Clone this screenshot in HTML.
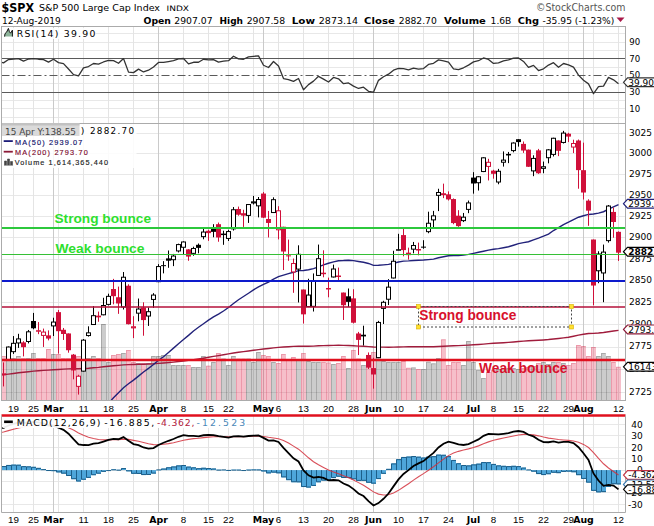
<!DOCTYPE html><html><head><meta charset="utf-8"><style>html,body{margin:0;padding:0;background:#fff;width:654px;height:526px;overflow:hidden;position:relative}</style></head><body><svg width="654" height="526" viewBox="0 0 654 526" style="position:absolute;left:0;top:0">
<rect width="654" height="526" fill="#fff"/>
<defs><clipPath id="crsi"><rect x="1.5" y="26.5" width="624.0" height="97.0"/></clipPath></defs>
<line x1="1.5" y1="33.5" x2="625.5" y2="33.5" stroke="#e8e8e8" stroke-width="1"/>
<line x1="1.5" y1="42.5" x2="625.5" y2="42.5" stroke="#e8e8e8" stroke-width="1"/>
<line x1="1.5" y1="50.5" x2="625.5" y2="50.5" stroke="#e8e8e8" stroke-width="1"/>
<line x1="1.5" y1="67.5" x2="625.5" y2="67.5" stroke="#e8e8e8" stroke-width="1"/>
<line x1="1.5" y1="83.5" x2="625.5" y2="83.5" stroke="#e8e8e8" stroke-width="1"/>
<line x1="1.5" y1="100.5" x2="625.5" y2="100.5" stroke="#e8e8e8" stroke-width="1"/>
<line x1="1.5" y1="108.5" x2="625.5" y2="108.5" stroke="#e8e8e8" stroke-width="1"/>
<line x1="1.5" y1="117.5" x2="625.5" y2="117.5" stroke="#e8e8e8" stroke-width="1"/>
<line x1="13.5" y1="26.5" x2="13.5" y2="123.5" stroke="#e4e4e4" stroke-width="1"/>
<line x1="33.5" y1="26.5" x2="33.5" y2="123.5" stroke="#e4e4e4" stroke-width="1"/>
<line x1="53.5" y1="26.5" x2="53.5" y2="123.5" stroke="#cacaca" stroke-width="1"/>
<line x1="58.5" y1="26.5" x2="58.5" y2="123.5" stroke="#e4e4e4" stroke-width="1"/>
<line x1="83.5" y1="26.5" x2="83.5" y2="123.5" stroke="#e4e4e4" stroke-width="1"/>
<line x1="108.5" y1="26.5" x2="108.5" y2="123.5" stroke="#e4e4e4" stroke-width="1"/>
<line x1="133.5" y1="26.5" x2="133.5" y2="123.5" stroke="#e4e4e4" stroke-width="1"/>
<line x1="158.5" y1="26.5" x2="158.5" y2="123.5" stroke="#cacaca" stroke-width="1"/>
<line x1="183.5" y1="26.5" x2="183.5" y2="123.5" stroke="#e4e4e4" stroke-width="1"/>
<line x1="208.5" y1="26.5" x2="208.5" y2="123.5" stroke="#e4e4e4" stroke-width="1"/>
<line x1="228.5" y1="26.5" x2="228.5" y2="123.5" stroke="#e4e4e4" stroke-width="1"/>
<line x1="253.5" y1="26.5" x2="253.5" y2="123.5" stroke="#e4e4e4" stroke-width="1"/>
<line x1="263.5" y1="26.5" x2="263.5" y2="123.5" stroke="#cacaca" stroke-width="1"/>
<line x1="278.5" y1="26.5" x2="278.5" y2="123.5" stroke="#e4e4e4" stroke-width="1"/>
<line x1="303.5" y1="26.5" x2="303.5" y2="123.5" stroke="#e4e4e4" stroke-width="1"/>
<line x1="328.5" y1="26.5" x2="328.5" y2="123.5" stroke="#e4e4e4" stroke-width="1"/>
<line x1="353.5" y1="26.5" x2="353.5" y2="123.5" stroke="#e4e4e4" stroke-width="1"/>
<line x1="373.5" y1="26.5" x2="373.5" y2="123.5" stroke="#cacaca" stroke-width="1"/>
<line x1="398.5" y1="26.5" x2="398.5" y2="123.5" stroke="#e4e4e4" stroke-width="1"/>
<line x1="423.5" y1="26.5" x2="423.5" y2="123.5" stroke="#e4e4e4" stroke-width="1"/>
<line x1="448.5" y1="26.5" x2="448.5" y2="123.5" stroke="#e4e4e4" stroke-width="1"/>
<line x1="473.5" y1="26.5" x2="473.5" y2="123.5" stroke="#cacaca" stroke-width="1"/>
<line x1="493.5" y1="26.5" x2="493.5" y2="123.5" stroke="#e4e4e4" stroke-width="1"/>
<line x1="518.5" y1="26.5" x2="518.5" y2="123.5" stroke="#e4e4e4" stroke-width="1"/>
<line x1="543.5" y1="26.5" x2="543.5" y2="123.5" stroke="#e4e4e4" stroke-width="1"/>
<line x1="568.5" y1="26.5" x2="568.5" y2="123.5" stroke="#e4e4e4" stroke-width="1"/>
<line x1="583.5" y1="26.5" x2="583.5" y2="123.5" stroke="#cacaca" stroke-width="1"/>
<line x1="593.5" y1="26.5" x2="593.5" y2="123.5" stroke="#e4e4e4" stroke-width="1"/>
<line x1="618.5" y1="26.5" x2="618.5" y2="123.5" stroke="#e4e4e4" stroke-width="1"/>
<line x1="1.5" y1="58.5" x2="625.5" y2="58.5" stroke="#5a5a5a" stroke-width="1"/>
<line x1="1.5" y1="92.5" x2="625.5" y2="92.5" stroke="#5a5a5a" stroke-width="1"/>
<line x1="1.5" y1="75.5" x2="625.5" y2="75.5" stroke="#5a5a5a" stroke-width="1" stroke-dasharray="8,3,2,3"/>
<polyline clip-path="url(#crsi)" points="-1.5,61.27 3.5,62.91 8.5,59.57 13.5,59.13 18.5,58.6 23.5,61.13 28.5,59 33.5,58.59 38.5,59.23 43.5,59.7 48.5,62.16 53.5,59.29 58.5,62.65 63.5,63.62 68.5,68.95 73.5,74.59 78.5,75.94 83.5,67.91 88.5,66.53 93.5,63.49 98.5,64.16 103.5,61.99 108.5,60.46 113.5,60.58 118.5,63.27 123.5,58.59 128.5,72.14 133.5,72.62 138.5,69.13 143.5,71.97 148.5,70.18 153.5,67.03 158.5,62.4 163.5,62.4 168.5,61.56 173.5,60.73 178.5,58.92 183.5,58.52 188.5,63.86 193.5,62.26 198.5,62.25 203.5,59.26 208.5,59.88 213.5,59.64 218.5,62.08 223.5,61.21 228.5,60.64 233.5,56.23 238.5,58.8 243.5,59.24 248.5,56.85 253.5,56.32 258.5,55.84 263.5,65.23 268.5,67.53 273.5,61.52 278.5,66.09 283.5,78.61 288.5,79.56 293.5,81.34 298.5,78.53 303.5,89.82 308.5,84.61 313.5,81.13 318.5,76.33 323.5,79.08 328.5,82 333.5,77.47 338.5,78.76 343.5,83.72 348.5,82.95 353.5,86.13 358.5,88.47 363.5,87.16 368.5,91.35 373.5,92.13 378.5,80.37 383.5,76.74 388.5,74.18 393.5,70.15 398.5,68.48 403.5,68.66 408.5,69.76 413.5,68.07 418.5,69.03 423.5,68.61 428.5,64.46 433.5,63.29 438.5,59.87 443.5,60.81 448.5,62.15 453.5,68.89 458.5,69.7 463.5,67.8 468.5,65.1 473.5,61.89 478.5,60.74 483.5,57.95 488.5,59.47 493.5,63.44 498.5,62.89 503.5,60.91 508.5,59.94 513.5,58.03 518.5,57.96 523.5,61.42 528.5,67.41 533.5,65.41 538.5,70.56 543.5,68.85 548.5,65.04 553.5,62.7 558.5,67.22 563.5,63.5 568.5,64.88 573.5,67.08 578.5,75.1 583.5,80.3 588.5,83.85 593.5,93.7 598.5,86.54 603.5,86.14 608.5,77.38 613.5,79.79 618.5,83.81" fill="none" stroke="#333" stroke-width="1.3" stroke-linejoin="round"/>
<clipPath id="cpr"><rect x="1.5" y="123.5" width="624.0" height="277.0"/></clipPath>
<line x1="1.5" y1="392.5" x2="625.5" y2="392.5" stroke="#e8e8e8" stroke-width="1"/>
<line x1="1.5" y1="369.5" x2="625.5" y2="369.5" stroke="#e8e8e8" stroke-width="1"/>
<line x1="1.5" y1="347.5" x2="625.5" y2="347.5" stroke="#e8e8e8" stroke-width="1"/>
<line x1="1.5" y1="324.5" x2="625.5" y2="324.5" stroke="#e8e8e8" stroke-width="1"/>
<line x1="1.5" y1="302.5" x2="625.5" y2="302.5" stroke="#e8e8e8" stroke-width="1"/>
<line x1="1.5" y1="280.5" x2="625.5" y2="280.5" stroke="#e8e8e8" stroke-width="1"/>
<line x1="1.5" y1="259.5" x2="625.5" y2="259.5" stroke="#e8e8e8" stroke-width="1"/>
<line x1="1.5" y1="237.5" x2="625.5" y2="237.5" stroke="#e8e8e8" stroke-width="1"/>
<line x1="1.5" y1="216.5" x2="625.5" y2="216.5" stroke="#e8e8e8" stroke-width="1"/>
<line x1="1.5" y1="195.5" x2="625.5" y2="195.5" stroke="#e8e8e8" stroke-width="1"/>
<line x1="1.5" y1="174.5" x2="625.5" y2="174.5" stroke="#e8e8e8" stroke-width="1"/>
<line x1="1.5" y1="153.5" x2="625.5" y2="153.5" stroke="#e8e8e8" stroke-width="1"/>
<line x1="1.5" y1="133.5" x2="625.5" y2="133.5" stroke="#e8e8e8" stroke-width="1"/>
<line x1="13.5" y1="123.5" x2="13.5" y2="400.5" stroke="#e4e4e4" stroke-width="1"/>
<line x1="33.5" y1="123.5" x2="33.5" y2="400.5" stroke="#e4e4e4" stroke-width="1"/>
<line x1="53.5" y1="123.5" x2="53.5" y2="400.5" stroke="#cacaca" stroke-width="1"/>
<line x1="58.5" y1="123.5" x2="58.5" y2="400.5" stroke="#e4e4e4" stroke-width="1"/>
<line x1="83.5" y1="123.5" x2="83.5" y2="400.5" stroke="#e4e4e4" stroke-width="1"/>
<line x1="108.5" y1="123.5" x2="108.5" y2="400.5" stroke="#e4e4e4" stroke-width="1"/>
<line x1="133.5" y1="123.5" x2="133.5" y2="400.5" stroke="#e4e4e4" stroke-width="1"/>
<line x1="158.5" y1="123.5" x2="158.5" y2="400.5" stroke="#cacaca" stroke-width="1"/>
<line x1="183.5" y1="123.5" x2="183.5" y2="400.5" stroke="#e4e4e4" stroke-width="1"/>
<line x1="208.5" y1="123.5" x2="208.5" y2="400.5" stroke="#e4e4e4" stroke-width="1"/>
<line x1="228.5" y1="123.5" x2="228.5" y2="400.5" stroke="#e4e4e4" stroke-width="1"/>
<line x1="253.5" y1="123.5" x2="253.5" y2="400.5" stroke="#e4e4e4" stroke-width="1"/>
<line x1="263.5" y1="123.5" x2="263.5" y2="400.5" stroke="#cacaca" stroke-width="1"/>
<line x1="278.5" y1="123.5" x2="278.5" y2="400.5" stroke="#e4e4e4" stroke-width="1"/>
<line x1="303.5" y1="123.5" x2="303.5" y2="400.5" stroke="#e4e4e4" stroke-width="1"/>
<line x1="328.5" y1="123.5" x2="328.5" y2="400.5" stroke="#e4e4e4" stroke-width="1"/>
<line x1="353.5" y1="123.5" x2="353.5" y2="400.5" stroke="#e4e4e4" stroke-width="1"/>
<line x1="373.5" y1="123.5" x2="373.5" y2="400.5" stroke="#cacaca" stroke-width="1"/>
<line x1="398.5" y1="123.5" x2="398.5" y2="400.5" stroke="#e4e4e4" stroke-width="1"/>
<line x1="423.5" y1="123.5" x2="423.5" y2="400.5" stroke="#e4e4e4" stroke-width="1"/>
<line x1="448.5" y1="123.5" x2="448.5" y2="400.5" stroke="#e4e4e4" stroke-width="1"/>
<line x1="473.5" y1="123.5" x2="473.5" y2="400.5" stroke="#cacaca" stroke-width="1"/>
<line x1="493.5" y1="123.5" x2="493.5" y2="400.5" stroke="#e4e4e4" stroke-width="1"/>
<line x1="518.5" y1="123.5" x2="518.5" y2="400.5" stroke="#e4e4e4" stroke-width="1"/>
<line x1="543.5" y1="123.5" x2="543.5" y2="400.5" stroke="#e4e4e4" stroke-width="1"/>
<line x1="568.5" y1="123.5" x2="568.5" y2="400.5" stroke="#e4e4e4" stroke-width="1"/>
<line x1="583.5" y1="123.5" x2="583.5" y2="400.5" stroke="#cacaca" stroke-width="1"/>
<line x1="593.5" y1="123.5" x2="593.5" y2="400.5" stroke="#e4e4e4" stroke-width="1"/>
<line x1="618.5" y1="123.5" x2="618.5" y2="400.5" stroke="#e4e4e4" stroke-width="1"/>
<g clip-path="url(#cpr)">
<rect x="-4.0" y="356" width="5" height="44.5" fill="rgba(0,0,0,0.2)"/>
<path d="M-3.5,400.5 V356.5 H0.5" fill="none" stroke="rgba(0,0,0,0.17)" stroke-width="1"/>
<rect x="1.0" y="356" width="5" height="44.5" fill="rgba(220,20,60,0.27)"/>
<path d="M1.5,400.5 V356.5 H5.5" fill="none" stroke="rgba(200,20,60,0.22)" stroke-width="1"/>
<rect x="6.0" y="353.5" width="5" height="47.0" fill="rgba(0,0,0,0.2)"/>
<path d="M6.5,400.5 V354.0 H10.5" fill="none" stroke="rgba(0,0,0,0.17)" stroke-width="1"/>
<rect x="11.0" y="358" width="5" height="42.5" fill="rgba(0,0,0,0.2)"/>
<path d="M11.5,400.5 V358.5 H15.5" fill="none" stroke="rgba(0,0,0,0.17)" stroke-width="1"/>
<rect x="16.0" y="356" width="5" height="44.5" fill="rgba(0,0,0,0.2)"/>
<path d="M16.5,400.5 V356.5 H20.5" fill="none" stroke="rgba(0,0,0,0.17)" stroke-width="1"/>
<rect x="21.0" y="358" width="5" height="42.5" fill="rgba(220,20,60,0.27)"/>
<path d="M21.5,400.5 V358.5 H25.5" fill="none" stroke="rgba(200,20,60,0.22)" stroke-width="1"/>
<rect x="26.0" y="358" width="5" height="42.5" fill="rgba(0,0,0,0.2)"/>
<path d="M26.5,400.5 V358.5 H30.5" fill="none" stroke="rgba(0,0,0,0.17)" stroke-width="1"/>
<rect x="31.0" y="353" width="5" height="47.5" fill="rgba(0,0,0,0.2)"/>
<path d="M31.5,400.5 V353.5 H35.5" fill="none" stroke="rgba(0,0,0,0.17)" stroke-width="1"/>
<rect x="36.0" y="358" width="5" height="42.5" fill="rgba(220,20,60,0.27)"/>
<path d="M36.5,400.5 V358.5 H40.5" fill="none" stroke="rgba(200,20,60,0.22)" stroke-width="1"/>
<rect x="41.0" y="358" width="5" height="42.5" fill="rgba(220,20,60,0.27)"/>
<path d="M41.5,400.5 V358.5 H45.5" fill="none" stroke="rgba(200,20,60,0.22)" stroke-width="1"/>
<rect x="46.0" y="349" width="5" height="51.5" fill="rgba(220,20,60,0.27)"/>
<path d="M46.5,400.5 V349.5 H50.5" fill="none" stroke="rgba(200,20,60,0.22)" stroke-width="1"/>
<rect x="51.0" y="354" width="5" height="46.5" fill="rgba(0,0,0,0.2)"/>
<path d="M51.5,400.5 V354.5 H55.5" fill="none" stroke="rgba(0,0,0,0.17)" stroke-width="1"/>
<rect x="56.0" y="354" width="5" height="46.5" fill="rgba(220,20,60,0.27)"/>
<path d="M56.5,400.5 V354.5 H60.5" fill="none" stroke="rgba(200,20,60,0.22)" stroke-width="1"/>
<rect x="61.0" y="358" width="5" height="42.5" fill="rgba(220,20,60,0.27)"/>
<path d="M61.5,400.5 V358.5 H65.5" fill="none" stroke="rgba(200,20,60,0.22)" stroke-width="1"/>
<rect x="66.0" y="358" width="5" height="42.5" fill="rgba(220,20,60,0.27)"/>
<path d="M66.5,400.5 V358.5 H70.5" fill="none" stroke="rgba(200,20,60,0.22)" stroke-width="1"/>
<rect x="71.0" y="356" width="5" height="44.5" fill="rgba(220,20,60,0.27)"/>
<path d="M71.5,400.5 V356.5 H75.5" fill="none" stroke="rgba(200,20,60,0.22)" stroke-width="1"/>
<rect x="76.0" y="356" width="5" height="44.5" fill="rgba(220,20,60,0.27)"/>
<path d="M76.5,400.5 V356.5 H80.5" fill="none" stroke="rgba(200,20,60,0.22)" stroke-width="1"/>
<rect x="81.0" y="358" width="5" height="42.5" fill="rgba(0,0,0,0.2)"/>
<path d="M81.5,400.5 V358.5 H85.5" fill="none" stroke="rgba(0,0,0,0.17)" stroke-width="1"/>
<rect x="86.0" y="358" width="5" height="42.5" fill="rgba(0,0,0,0.2)"/>
<path d="M86.5,400.5 V358.5 H90.5" fill="none" stroke="rgba(0,0,0,0.17)" stroke-width="1"/>
<rect x="91.0" y="356" width="5" height="44.5" fill="rgba(0,0,0,0.2)"/>
<path d="M91.5,400.5 V356.5 H95.5" fill="none" stroke="rgba(0,0,0,0.17)" stroke-width="1"/>
<rect x="96.0" y="358" width="5" height="42.5" fill="rgba(220,20,60,0.27)"/>
<path d="M96.5,400.5 V358.5 H100.5" fill="none" stroke="rgba(200,20,60,0.22)" stroke-width="1"/>
<rect x="101.0" y="324" width="5" height="76.5" fill="rgba(0,0,0,0.2)"/>
<path d="M101.5,400.5 V324.5 H105.5" fill="none" stroke="rgba(0,0,0,0.17)" stroke-width="1"/>
<rect x="106.0" y="362" width="5" height="38.5" fill="rgba(0,0,0,0.2)"/>
<path d="M106.5,400.5 V362.5 H110.5" fill="none" stroke="rgba(0,0,0,0.17)" stroke-width="1"/>
<rect x="111.0" y="355" width="5" height="45.5" fill="rgba(220,20,60,0.27)"/>
<path d="M111.5,400.5 V355.5 H115.5" fill="none" stroke="rgba(200,20,60,0.22)" stroke-width="1"/>
<rect x="116.0" y="354" width="5" height="46.5" fill="rgba(220,20,60,0.27)"/>
<path d="M116.5,400.5 V354.5 H120.5" fill="none" stroke="rgba(200,20,60,0.22)" stroke-width="1"/>
<rect x="121.0" y="353" width="5" height="47.5" fill="rgba(0,0,0,0.2)"/>
<path d="M121.5,400.5 V353.5 H125.5" fill="none" stroke="rgba(0,0,0,0.17)" stroke-width="1"/>
<rect x="126.0" y="350" width="5" height="50.5" fill="rgba(220,20,60,0.27)"/>
<path d="M126.5,400.5 V350.5 H130.5" fill="none" stroke="rgba(200,20,60,0.22)" stroke-width="1"/>
<rect x="131.0" y="362" width="5" height="38.5" fill="rgba(220,20,60,0.27)"/>
<path d="M131.5,400.5 V362.5 H135.5" fill="none" stroke="rgba(200,20,60,0.22)" stroke-width="1"/>
<rect x="136.0" y="363" width="5" height="37.5" fill="rgba(0,0,0,0.2)"/>
<path d="M136.5,400.5 V363.5 H140.5" fill="none" stroke="rgba(0,0,0,0.17)" stroke-width="1"/>
<rect x="141.0" y="363" width="5" height="37.5" fill="rgba(220,20,60,0.27)"/>
<path d="M141.5,400.5 V363.5 H145.5" fill="none" stroke="rgba(200,20,60,0.22)" stroke-width="1"/>
<rect x="146.0" y="363" width="5" height="37.5" fill="rgba(0,0,0,0.2)"/>
<path d="M146.5,400.5 V363.5 H150.5" fill="none" stroke="rgba(0,0,0,0.17)" stroke-width="1"/>
<rect x="151.0" y="356" width="5" height="44.5" fill="rgba(0,0,0,0.2)"/>
<path d="M151.5,400.5 V356.5 H155.5" fill="none" stroke="rgba(0,0,0,0.17)" stroke-width="1"/>
<rect x="156.0" y="356" width="5" height="44.5" fill="rgba(0,0,0,0.2)"/>
<path d="M156.5,400.5 V356.5 H160.5" fill="none" stroke="rgba(0,0,0,0.17)" stroke-width="1"/>
<rect x="161.0" y="355" width="5" height="45.5" fill="rgba(0,0,0,0.2)"/>
<path d="M161.5,400.5 V355.5 H165.5" fill="none" stroke="rgba(0,0,0,0.17)" stroke-width="1"/>
<rect x="166.0" y="355" width="5" height="45.5" fill="rgba(0,0,0,0.2)"/>
<path d="M166.5,400.5 V355.5 H170.5" fill="none" stroke="rgba(0,0,0,0.17)" stroke-width="1"/>
<rect x="171.0" y="365" width="5" height="35.5" fill="rgba(0,0,0,0.2)"/>
<path d="M171.5,400.5 V365.5 H175.5" fill="none" stroke="rgba(0,0,0,0.17)" stroke-width="1"/>
<rect x="176.0" y="365" width="5" height="35.5" fill="rgba(0,0,0,0.2)"/>
<path d="M176.5,400.5 V365.5 H180.5" fill="none" stroke="rgba(0,0,0,0.17)" stroke-width="1"/>
<rect x="181.0" y="365" width="5" height="35.5" fill="rgba(0,0,0,0.2)"/>
<path d="M181.5,400.5 V365.5 H185.5" fill="none" stroke="rgba(0,0,0,0.17)" stroke-width="1"/>
<rect x="186.0" y="365" width="5" height="35.5" fill="rgba(220,20,60,0.27)"/>
<path d="M186.5,400.5 V365.5 H190.5" fill="none" stroke="rgba(200,20,60,0.22)" stroke-width="1"/>
<rect x="191.0" y="367" width="5" height="33.5" fill="rgba(0,0,0,0.2)"/>
<path d="M191.5,400.5 V367.5 H195.5" fill="none" stroke="rgba(0,0,0,0.17)" stroke-width="1"/>
<rect x="196.0" y="367" width="5" height="33.5" fill="rgba(0,0,0,0.2)"/>
<path d="M196.5,400.5 V367.5 H200.5" fill="none" stroke="rgba(0,0,0,0.17)" stroke-width="1"/>
<rect x="201.0" y="356" width="5" height="44.5" fill="rgba(0,0,0,0.2)"/>
<path d="M201.5,400.5 V356.5 H205.5" fill="none" stroke="rgba(0,0,0,0.17)" stroke-width="1"/>
<rect x="206.0" y="365.7" width="5" height="34.80000000000001" fill="rgba(220,20,60,0.27)"/>
<path d="M206.5,400.5 V366.2 H210.5" fill="none" stroke="rgba(200,20,60,0.22)" stroke-width="1"/>
<rect x="211.0" y="362" width="5" height="38.5" fill="rgba(0,0,0,0.2)"/>
<path d="M211.5,400.5 V362.5 H215.5" fill="none" stroke="rgba(0,0,0,0.17)" stroke-width="1"/>
<rect x="216.0" y="353" width="5" height="47.5" fill="rgba(220,20,60,0.27)"/>
<path d="M216.5,400.5 V353.5 H220.5" fill="none" stroke="rgba(200,20,60,0.22)" stroke-width="1"/>
<rect x="221.0" y="358.5" width="5" height="42.0" fill="rgba(0,0,0,0.2)"/>
<path d="M221.5,400.5 V359.0 H225.5" fill="none" stroke="rgba(0,0,0,0.17)" stroke-width="1"/>
<rect x="226.0" y="365" width="5" height="35.5" fill="rgba(0,0,0,0.2)"/>
<path d="M226.5,400.5 V365.5 H230.5" fill="none" stroke="rgba(0,0,0,0.17)" stroke-width="1"/>
<rect x="231.0" y="356" width="5" height="44.5" fill="rgba(0,0,0,0.2)"/>
<path d="M231.5,400.5 V356.5 H235.5" fill="none" stroke="rgba(0,0,0,0.17)" stroke-width="1"/>
<rect x="236.0" y="358.5" width="5" height="42.0" fill="rgba(220,20,60,0.27)"/>
<path d="M236.5,400.5 V359.0 H240.5" fill="none" stroke="rgba(200,20,60,0.22)" stroke-width="1"/>
<rect x="241.0" y="358.5" width="5" height="42.0" fill="rgba(220,20,60,0.27)"/>
<path d="M241.5,400.5 V359.0 H245.5" fill="none" stroke="rgba(200,20,60,0.22)" stroke-width="1"/>
<rect x="246.0" y="358.5" width="5" height="42.0" fill="rgba(0,0,0,0.2)"/>
<path d="M246.5,400.5 V359.0 H250.5" fill="none" stroke="rgba(0,0,0,0.17)" stroke-width="1"/>
<rect x="251.0" y="362" width="5" height="38.5" fill="rgba(0,0,0,0.2)"/>
<path d="M251.5,400.5 V362.5 H255.5" fill="none" stroke="rgba(0,0,0,0.17)" stroke-width="1"/>
<rect x="256.0" y="352" width="5" height="48.5" fill="rgba(0,0,0,0.2)"/>
<path d="M256.5,400.5 V352.5 H260.5" fill="none" stroke="rgba(0,0,0,0.17)" stroke-width="1"/>
<rect x="261.0" y="355" width="5" height="45.5" fill="rgba(220,20,60,0.27)"/>
<path d="M261.5,400.5 V355.5 H265.5" fill="none" stroke="rgba(200,20,60,0.22)" stroke-width="1"/>
<rect x="266.0" y="356" width="5" height="44.5" fill="rgba(220,20,60,0.27)"/>
<path d="M266.5,400.5 V356.5 H270.5" fill="none" stroke="rgba(200,20,60,0.22)" stroke-width="1"/>
<rect x="271.0" y="362" width="5" height="38.5" fill="rgba(0,0,0,0.2)"/>
<path d="M271.5,400.5 V362.5 H275.5" fill="none" stroke="rgba(0,0,0,0.17)" stroke-width="1"/>
<rect x="276.0" y="363" width="5" height="37.5" fill="rgba(220,20,60,0.27)"/>
<path d="M276.5,400.5 V363.5 H280.5" fill="none" stroke="rgba(200,20,60,0.22)" stroke-width="1"/>
<rect x="281.0" y="354" width="5" height="46.5" fill="rgba(220,20,60,0.27)"/>
<path d="M281.5,400.5 V354.5 H285.5" fill="none" stroke="rgba(200,20,60,0.22)" stroke-width="1"/>
<rect x="286.0" y="359" width="5" height="41.5" fill="rgba(220,20,60,0.27)"/>
<path d="M286.5,400.5 V359.5 H290.5" fill="none" stroke="rgba(200,20,60,0.22)" stroke-width="1"/>
<rect x="291.0" y="357" width="5" height="43.5" fill="rgba(220,20,60,0.27)"/>
<path d="M291.5,400.5 V357.5 H295.5" fill="none" stroke="rgba(200,20,60,0.22)" stroke-width="1"/>
<rect x="296.0" y="359" width="5" height="41.5" fill="rgba(0,0,0,0.2)"/>
<path d="M296.5,400.5 V359.5 H300.5" fill="none" stroke="rgba(0,0,0,0.17)" stroke-width="1"/>
<rect x="301.0" y="353" width="5" height="47.5" fill="rgba(220,20,60,0.27)"/>
<path d="M301.5,400.5 V353.5 H305.5" fill="none" stroke="rgba(200,20,60,0.22)" stroke-width="1"/>
<rect x="306.0" y="361" width="5" height="39.5" fill="rgba(0,0,0,0.2)"/>
<path d="M306.5,400.5 V361.5 H310.5" fill="none" stroke="rgba(0,0,0,0.17)" stroke-width="1"/>
<rect x="311.0" y="362" width="5" height="38.5" fill="rgba(0,0,0,0.2)"/>
<path d="M311.5,400.5 V362.5 H315.5" fill="none" stroke="rgba(0,0,0,0.17)" stroke-width="1"/>
<rect x="316.0" y="362" width="5" height="38.5" fill="rgba(0,0,0,0.2)"/>
<path d="M316.5,400.5 V362.5 H320.5" fill="none" stroke="rgba(0,0,0,0.17)" stroke-width="1"/>
<rect x="321.0" y="362" width="5" height="38.5" fill="rgba(220,20,60,0.27)"/>
<path d="M321.5,400.5 V362.5 H325.5" fill="none" stroke="rgba(200,20,60,0.22)" stroke-width="1"/>
<rect x="326.0" y="362.5" width="5" height="38.0" fill="rgba(220,20,60,0.27)"/>
<path d="M326.5,400.5 V363.0 H330.5" fill="none" stroke="rgba(200,20,60,0.22)" stroke-width="1"/>
<rect x="331.0" y="364" width="5" height="36.5" fill="rgba(0,0,0,0.2)"/>
<path d="M331.5,400.5 V364.5 H335.5" fill="none" stroke="rgba(0,0,0,0.17)" stroke-width="1"/>
<rect x="336.0" y="363" width="5" height="37.5" fill="rgba(220,20,60,0.27)"/>
<path d="M336.5,400.5 V363.5 H340.5" fill="none" stroke="rgba(200,20,60,0.22)" stroke-width="1"/>
<rect x="341.0" y="356" width="5" height="44.5" fill="rgba(220,20,60,0.27)"/>
<path d="M341.5,400.5 V356.5 H345.5" fill="none" stroke="rgba(200,20,60,0.22)" stroke-width="1"/>
<rect x="346.0" y="368" width="5" height="32.5" fill="rgba(0,0,0,0.2)"/>
<path d="M346.5,400.5 V368.5 H350.5" fill="none" stroke="rgba(0,0,0,0.17)" stroke-width="1"/>
<rect x="351.0" y="350" width="5" height="50.5" fill="rgba(220,20,60,0.27)"/>
<path d="M351.5,400.5 V350.5 H355.5" fill="none" stroke="rgba(200,20,60,0.22)" stroke-width="1"/>
<rect x="356.0" y="358.5" width="5" height="42.0" fill="rgba(220,20,60,0.27)"/>
<path d="M356.5,400.5 V359.0 H360.5" fill="none" stroke="rgba(200,20,60,0.22)" stroke-width="1"/>
<rect x="361.0" y="365" width="5" height="35.5" fill="rgba(0,0,0,0.2)"/>
<path d="M361.5,400.5 V365.5 H365.5" fill="none" stroke="rgba(0,0,0,0.17)" stroke-width="1"/>
<rect x="366.0" y="356" width="5" height="44.5" fill="rgba(220,20,60,0.27)"/>
<path d="M366.5,400.5 V356.5 H370.5" fill="none" stroke="rgba(200,20,60,0.22)" stroke-width="1"/>
<rect x="371.0" y="352" width="5" height="48.5" fill="rgba(220,20,60,0.27)"/>
<path d="M371.5,400.5 V352.5 H375.5" fill="none" stroke="rgba(200,20,60,0.22)" stroke-width="1"/>
<rect x="376.0" y="354" width="5" height="46.5" fill="rgba(0,0,0,0.2)"/>
<path d="M376.5,400.5 V354.5 H380.5" fill="none" stroke="rgba(0,0,0,0.17)" stroke-width="1"/>
<rect x="381.0" y="361" width="5" height="39.5" fill="rgba(0,0,0,0.2)"/>
<path d="M381.5,400.5 V361.5 H385.5" fill="none" stroke="rgba(0,0,0,0.17)" stroke-width="1"/>
<rect x="386.0" y="362" width="5" height="38.5" fill="rgba(0,0,0,0.2)"/>
<path d="M386.5,400.5 V362.5 H390.5" fill="none" stroke="rgba(0,0,0,0.17)" stroke-width="1"/>
<rect x="391.0" y="362" width="5" height="38.5" fill="rgba(0,0,0,0.2)"/>
<path d="M391.5,400.5 V362.5 H395.5" fill="none" stroke="rgba(0,0,0,0.17)" stroke-width="1"/>
<rect x="396.0" y="362" width="5" height="38.5" fill="rgba(0,0,0,0.2)"/>
<path d="M396.5,400.5 V362.5 H400.5" fill="none" stroke="rgba(0,0,0,0.17)" stroke-width="1"/>
<rect x="401.0" y="361" width="5" height="39.5" fill="rgba(220,20,60,0.27)"/>
<path d="M401.5,400.5 V361.5 H405.5" fill="none" stroke="rgba(200,20,60,0.22)" stroke-width="1"/>
<rect x="406.0" y="367.8" width="5" height="32.69999999999999" fill="rgba(220,20,60,0.27)"/>
<path d="M406.5,400.5 V368.3 H410.5" fill="none" stroke="rgba(200,20,60,0.22)" stroke-width="1"/>
<rect x="411.0" y="367.4" width="5" height="33.10000000000002" fill="rgba(0,0,0,0.2)"/>
<path d="M411.5,400.5 V367.9 H415.5" fill="none" stroke="rgba(0,0,0,0.17)" stroke-width="1"/>
<rect x="416.0" y="369" width="5" height="31.5" fill="rgba(220,20,60,0.27)"/>
<path d="M416.5,400.5 V369.5 H420.5" fill="none" stroke="rgba(200,20,60,0.22)" stroke-width="1"/>
<rect x="421.0" y="369" width="5" height="31.5" fill="rgba(0,0,0,0.2)"/>
<path d="M421.5,400.5 V369.5 H425.5" fill="none" stroke="rgba(0,0,0,0.17)" stroke-width="1"/>
<rect x="426.0" y="361.7" width="5" height="38.80000000000001" fill="rgba(0,0,0,0.2)"/>
<path d="M426.5,400.5 V362.2 H430.5" fill="none" stroke="rgba(0,0,0,0.17)" stroke-width="1"/>
<rect x="431.0" y="363.3" width="5" height="37.19999999999999" fill="rgba(0,0,0,0.2)"/>
<path d="M431.5,400.5 V363.8 H435.5" fill="none" stroke="rgba(0,0,0,0.17)" stroke-width="1"/>
<rect x="436.0" y="358" width="5" height="42.5" fill="rgba(0,0,0,0.2)"/>
<path d="M436.5,400.5 V358.5 H440.5" fill="none" stroke="rgba(0,0,0,0.17)" stroke-width="1"/>
<rect x="441.0" y="339.3" width="5" height="61.19999999999999" fill="rgba(220,20,60,0.27)"/>
<path d="M441.5,400.5 V339.8 H445.5" fill="none" stroke="rgba(200,20,60,0.22)" stroke-width="1"/>
<rect x="446.0" y="365" width="5" height="35.5" fill="rgba(220,20,60,0.27)"/>
<path d="M446.5,400.5 V365.5 H450.5" fill="none" stroke="rgba(200,20,60,0.22)" stroke-width="1"/>
<rect x="451.0" y="362" width="5" height="38.5" fill="rgba(220,20,60,0.27)"/>
<path d="M451.5,400.5 V362.5 H455.5" fill="none" stroke="rgba(200,20,60,0.22)" stroke-width="1"/>
<rect x="456.0" y="362" width="5" height="38.5" fill="rgba(220,20,60,0.27)"/>
<path d="M456.5,400.5 V362.5 H460.5" fill="none" stroke="rgba(200,20,60,0.22)" stroke-width="1"/>
<rect x="461.0" y="365" width="5" height="35.5" fill="rgba(0,0,0,0.2)"/>
<path d="M461.5,400.5 V365.5 H465.5" fill="none" stroke="rgba(0,0,0,0.17)" stroke-width="1"/>
<rect x="466.0" y="341" width="5" height="59.5" fill="rgba(0,0,0,0.2)"/>
<path d="M466.5,400.5 V341.5 H470.5" fill="none" stroke="rgba(0,0,0,0.17)" stroke-width="1"/>
<rect x="471.0" y="362" width="5" height="38.5" fill="rgba(0,0,0,0.2)"/>
<path d="M471.5,400.5 V362.5 H475.5" fill="none" stroke="rgba(0,0,0,0.17)" stroke-width="1"/>
<rect x="476.0" y="369.8" width="5" height="30.69999999999999" fill="rgba(0,0,0,0.2)"/>
<path d="M476.5,400.5 V370.3 H480.5" fill="none" stroke="rgba(0,0,0,0.17)" stroke-width="1"/>
<rect x="481.0" y="378" width="5" height="22.5" fill="rgba(0,0,0,0.2)"/>
<path d="M481.5,400.5 V378.5 H485.5" fill="none" stroke="rgba(0,0,0,0.17)" stroke-width="1"/>
<rect x="486.0" y="372" width="5" height="28.5" fill="rgba(220,20,60,0.27)"/>
<path d="M486.5,400.5 V372.5 H490.5" fill="none" stroke="rgba(200,20,60,0.22)" stroke-width="1"/>
<rect x="491.0" y="370" width="5" height="30.5" fill="rgba(220,20,60,0.27)"/>
<path d="M491.5,400.5 V370.5 H495.5" fill="none" stroke="rgba(200,20,60,0.22)" stroke-width="1"/>
<rect x="496.0" y="369" width="5" height="31.5" fill="rgba(0,0,0,0.2)"/>
<path d="M496.5,400.5 V369.5 H500.5" fill="none" stroke="rgba(0,0,0,0.17)" stroke-width="1"/>
<rect x="501.0" y="368" width="5" height="32.5" fill="rgba(0,0,0,0.2)"/>
<path d="M501.5,400.5 V368.5 H505.5" fill="none" stroke="rgba(0,0,0,0.17)" stroke-width="1"/>
<rect x="506.0" y="368" width="5" height="32.5" fill="rgba(0,0,0,0.2)"/>
<path d="M506.5,400.5 V368.5 H510.5" fill="none" stroke="rgba(0,0,0,0.17)" stroke-width="1"/>
<rect x="511.0" y="368" width="5" height="32.5" fill="rgba(0,0,0,0.2)"/>
<path d="M511.5,400.5 V368.5 H515.5" fill="none" stroke="rgba(0,0,0,0.17)" stroke-width="1"/>
<rect x="516.0" y="369" width="5" height="31.5" fill="rgba(0,0,0,0.2)"/>
<path d="M516.5,400.5 V369.5 H520.5" fill="none" stroke="rgba(0,0,0,0.17)" stroke-width="1"/>
<rect x="521.0" y="368" width="5" height="32.5" fill="rgba(220,20,60,0.27)"/>
<path d="M521.5,400.5 V368.5 H525.5" fill="none" stroke="rgba(200,20,60,0.22)" stroke-width="1"/>
<rect x="526.0" y="367" width="5" height="33.5" fill="rgba(220,20,60,0.27)"/>
<path d="M526.5,400.5 V367.5 H530.5" fill="none" stroke="rgba(200,20,60,0.22)" stroke-width="1"/>
<rect x="531.0" y="366" width="5" height="34.5" fill="rgba(0,0,0,0.2)"/>
<path d="M531.5,400.5 V366.5 H535.5" fill="none" stroke="rgba(0,0,0,0.17)" stroke-width="1"/>
<rect x="536.0" y="363" width="5" height="37.5" fill="rgba(220,20,60,0.27)"/>
<path d="M536.5,400.5 V363.5 H540.5" fill="none" stroke="rgba(200,20,60,0.22)" stroke-width="1"/>
<rect x="541.0" y="362" width="5" height="38.5" fill="rgba(0,0,0,0.2)"/>
<path d="M541.5,400.5 V362.5 H545.5" fill="none" stroke="rgba(0,0,0,0.17)" stroke-width="1"/>
<rect x="546.0" y="364" width="5" height="36.5" fill="rgba(0,0,0,0.2)"/>
<path d="M546.5,400.5 V364.5 H550.5" fill="none" stroke="rgba(0,0,0,0.17)" stroke-width="1"/>
<rect x="551.0" y="362" width="5" height="38.5" fill="rgba(0,0,0,0.2)"/>
<path d="M551.5,400.5 V362.5 H555.5" fill="none" stroke="rgba(0,0,0,0.17)" stroke-width="1"/>
<rect x="556.0" y="362" width="5" height="38.5" fill="rgba(220,20,60,0.27)"/>
<path d="M556.5,400.5 V362.5 H560.5" fill="none" stroke="rgba(200,20,60,0.22)" stroke-width="1"/>
<rect x="561.0" y="363" width="5" height="37.5" fill="rgba(0,0,0,0.2)"/>
<path d="M561.5,400.5 V363.5 H565.5" fill="none" stroke="rgba(0,0,0,0.17)" stroke-width="1"/>
<rect x="566.0" y="365" width="5" height="35.5" fill="rgba(220,20,60,0.27)"/>
<path d="M566.5,400.5 V365.5 H570.5" fill="none" stroke="rgba(200,20,60,0.22)" stroke-width="1"/>
<rect x="571.0" y="363" width="5" height="37.5" fill="rgba(220,20,60,0.27)"/>
<path d="M571.5,400.5 V363.5 H575.5" fill="none" stroke="rgba(200,20,60,0.22)" stroke-width="1"/>
<rect x="576.0" y="345" width="5" height="55.5" fill="rgba(220,20,60,0.27)"/>
<path d="M576.5,400.5 V345.5 H580.5" fill="none" stroke="rgba(200,20,60,0.22)" stroke-width="1"/>
<rect x="581.0" y="346" width="5" height="54.5" fill="rgba(220,20,60,0.27)"/>
<path d="M581.5,400.5 V346.5 H585.5" fill="none" stroke="rgba(200,20,60,0.22)" stroke-width="1"/>
<rect x="586.0" y="356" width="5" height="44.5" fill="rgba(220,20,60,0.27)"/>
<path d="M586.5,400.5 V356.5 H590.5" fill="none" stroke="rgba(200,20,60,0.22)" stroke-width="1"/>
<rect x="591.0" y="347" width="5" height="53.5" fill="rgba(220,20,60,0.27)"/>
<path d="M591.5,400.5 V347.5 H595.5" fill="none" stroke="rgba(200,20,60,0.22)" stroke-width="1"/>
<rect x="596.0" y="356" width="5" height="44.5" fill="rgba(0,0,0,0.2)"/>
<path d="M596.5,400.5 V356.5 H600.5" fill="none" stroke="rgba(0,0,0,0.17)" stroke-width="1"/>
<rect x="601.0" y="353" width="5" height="47.5" fill="rgba(0,0,0,0.2)"/>
<path d="M601.5,400.5 V353.5 H605.5" fill="none" stroke="rgba(0,0,0,0.17)" stroke-width="1"/>
<rect x="606.0" y="356" width="5" height="44.5" fill="rgba(0,0,0,0.2)"/>
<path d="M606.5,400.5 V356.5 H610.5" fill="none" stroke="rgba(0,0,0,0.17)" stroke-width="1"/>
<rect x="611.0" y="362" width="5" height="38.5" fill="rgba(220,20,60,0.27)"/>
<path d="M611.5,400.5 V362.5 H615.5" fill="none" stroke="rgba(200,20,60,0.22)" stroke-width="1"/>
<rect x="616.0" y="366.8" width="5" height="33.69999999999999" fill="rgba(220,20,60,0.27)"/>
<path d="M616.5,400.5 V367.3 H620.5" fill="none" stroke="rgba(200,20,60,0.22)" stroke-width="1"/>
<polyline points="-1.5,375.09 3.5,374.64 8.5,374.1 13.5,373.45 18.5,372.75 23.5,372.25 28.5,371.71 33.5,371.15 38.5,370.71 43.5,370.4 48.5,370.14 53.5,369.81 58.5,369.45 63.5,369.14 68.5,368.91 73.5,368.75 78.5,368.7 83.5,368.44 88.5,368.18 93.5,367.8 98.5,367.41 103.5,366.81 108.5,366.32 113.5,365.75 118.5,365.35 123.5,364.86 128.5,364.63 133.5,364.51 138.5,364.3 143.5,364.18 148.5,364.03 153.5,363.81 158.5,363.4 163.5,363.02 168.5,362.6 173.5,362.12 178.5,361.54 183.5,360.96 188.5,360.39 193.5,359.79 198.5,359.02 203.5,358.19 208.5,357.27 213.5,356.41 218.5,355.6 223.5,354.8 228.5,353.93 233.5,353.05 238.5,352.3 243.5,351.66 248.5,351.01 253.5,350.25 258.5,349.59 263.5,349.05 268.5,348.51 273.5,347.91 278.5,347.38 283.5,347.03 288.5,346.68 293.5,346.4 298.5,346.12 303.5,346.28 308.5,346.29 313.5,346.15 318.5,345.82 323.5,345.63 328.5,345.51 333.5,345.34 338.5,345.27 343.5,345.39 348.5,345.54 353.5,345.79 358.5,346.1 363.5,346.3 368.5,346.61 373.5,347.04 378.5,347.1 383.5,347.17 388.5,347.2 393.5,347.13 398.5,347.02 403.5,346.91 408.5,346.81 413.5,346.74 418.5,346.78 423.5,346.81 428.5,346.8 433.5,346.68 438.5,346.45 443.5,346.21 448.5,345.96 453.5,345.78 458.5,345.59 463.5,345.38 468.5,345.14 473.5,344.8 478.5,344.5 483.5,344.09 488.5,343.64 493.5,343.32 498.5,343 503.5,342.72 508.5,342.41 513.5,341.99 518.5,341.55 523.5,341.11 528.5,340.8 533.5,340.44 538.5,340.2 543.5,339.93 548.5,339.57 553.5,339.05 558.5,338.52 563.5,337.89 568.5,337.27 573.5,336.26 578.5,335.14 583.5,334.31 588.5,333.5 593.5,333.35 598.5,333.03 603.5,332.52 608.5,331.76 613.5,331.04 618.5,330.41" fill="none" stroke="#a01c3c" stroke-width="1.4"/>
<polyline points="-1.5,492.96 3.5,493.23 8.5,493.51 13.5,492 18.5,490.32 23.5,487.64 28.5,484.71 33.5,481.7 38.5,479.01 43.5,476.34 48.5,472.87 53.5,468.03 58.5,463.41 63.5,458.13 68.5,452.45 73.5,446.27 78.5,438.99 83.5,433.15 88.5,427.56 93.5,421.57 98.5,416.02 103.5,410.29 108.5,403.25 113.5,397.76 118.5,392.76 123.5,387.66 128.5,383.75 133.5,380.1 138.5,376.08 143.5,372.06 148.5,368.36 153.5,364.43 158.5,360.27 163.5,356.75 168.5,352.44 173.5,348.14 178.5,343.67 183.5,339.55 188.5,335.38 193.5,330.97 198.5,327.3 203.5,323.7 208.5,320.18 213.5,316.96 218.5,314.09 223.5,311.04 228.5,307.49 233.5,303.52 238.5,299.71 243.5,296.53 248.5,293.26 253.5,289.82 258.5,286.85 263.5,284.34 268.5,282.03 273.5,279.06 278.5,276.63 283.5,275.1 288.5,273.62 293.5,272.26 298.5,270.58 303.5,270.44 308.5,269.72 313.5,268.66 318.5,266.85 323.5,264.94 328.5,263.26 333.5,261.86 338.5,260.74 343.5,260.55 348.5,260.24 353.5,260.59 358.5,261.45 363.5,262.21 368.5,263.45 373.5,265.36 378.5,265.31 383.5,264.83 388.5,264.4 393.5,263.23 398.5,262 403.5,261.11 408.5,260.89 413.5,260.47 418.5,260.24 423.5,260.06 428.5,259.63 433.5,259.1 438.5,257.79 443.5,256.72 448.5,255.74 453.5,255.57 458.5,255.43 463.5,255.12 468.5,254.41 473.5,253.39 478.5,252.27 483.5,251.2 488.5,250.12 493.5,249.26 498.5,248.58 503.5,247.72 508.5,246.79 513.5,245.25 518.5,243.59 523.5,242.59 528.5,241.7 533.5,239.8 538.5,238.14 543.5,236.19 548.5,234.07 553.5,230.53 558.5,227.64 563.5,224.67 568.5,222.21 573.5,219.6 578.5,217.23 583.5,215.72 588.5,214.43 593.5,214.05 598.5,213.11 603.5,211.73 608.5,209.11 613.5,206.92 618.5,204.71" fill="none" stroke="#22227a" stroke-width="1.4"/>
<line x1="-1.5" y1="358.82" x2="-1.5" y2="370.71" stroke="#000" stroke-width="1"/>
<rect x="-3.5" y="367.25" width="4" height="1.46" fill="#fff" stroke="#000" stroke-width="1"/>
<line x1="3.5" y1="362.37" x2="3.5" y2="386.45" stroke="#d0103a" stroke-width="1"/>
<rect x="1.5" y="373.83" width="4" height="1.01" fill="#fff" stroke="#d0103a" stroke-width="1"/>
<line x1="8.5" y1="346.46" x2="8.5" y2="360.27" stroke="#000" stroke-width="1"/>
<rect x="6.5" y="347.02" width="4" height="12.75" fill="#fff" stroke="#000" stroke-width="1"/>
<line x1="13.5" y1="336.07" x2="13.5" y2="353.95" stroke="#000" stroke-width="1"/>
<rect x="11.5" y="343.31" width="4" height="8.36" fill="#fff" stroke="#000" stroke-width="1"/>
<line x1="18.5" y1="333.8" x2="18.5" y2="347.89" stroke="#000" stroke-width="1"/>
<rect x="16.5" y="338.91" width="4" height="4.03" fill="#fff" stroke="#000" stroke-width="1"/>
<line x1="23.5" y1="341.18" x2="23.5" y2="356.4" stroke="#d0103a" stroke-width="1"/>
<rect x="21.0" y="342.38" width="5" height="4.78" fill="#d0103a"/>
<line x1="28.5" y1="329.97" x2="28.5" y2="343.39" stroke="#000" stroke-width="1"/>
<rect x="26.5" y="331.82" width="4" height="9.67" fill="#fff" stroke="#000" stroke-width="1"/>
<line x1="33.5" y1="312.92" x2="33.5" y2="329.27" stroke="#000" stroke-width="1"/>
<rect x="31.0" y="320.98" width="5" height="7.29" fill="#000"/>
<line x1="38.5" y1="322.07" x2="38.5" y2="334.17" stroke="#d0103a" stroke-width="1"/>
<rect x="36.5" y="330.73" width="4" height="0.5" fill="#fff" stroke="#d0103a" stroke-width="1"/>
<line x1="43.5" y1="328.58" x2="43.5" y2="346.94" stroke="#d0103a" stroke-width="1"/>
<rect x="41.5" y="332.08" width="4" height="3.33" fill="#fff" stroke="#d0103a" stroke-width="1"/>
<line x1="48.5" y1="330.38" x2="48.5" y2="340.36" stroke="#d0103a" stroke-width="1"/>
<rect x="46.0" y="335.37" width="5" height="3.22" fill="#d0103a"/>
<line x1="53.5" y1="317.74" x2="53.5" y2="336.02" stroke="#000" stroke-width="1"/>
<rect x="51.5" y="322.07" width="4" height="3.84" fill="#fff" stroke="#000" stroke-width="1"/>
<line x1="58.5" y1="309.93" x2="58.5" y2="353.62" stroke="#d0103a" stroke-width="1"/>
<rect x="56.0" y="312.14" width="5" height="19.06" fill="#d0103a"/>
<line x1="63.5" y1="327.98" x2="63.5" y2="339.95" stroke="#d0103a" stroke-width="1"/>
<rect x="61.0" y="329.78" width="5" height="4.22" fill="#d0103a"/>
<line x1="68.5" y1="333.45" x2="68.5" y2="352.69" stroke="#d0103a" stroke-width="1"/>
<rect x="66.0" y="333.45" width="5" height="16.77" fill="#d0103a"/>
<line x1="73.5" y1="353.98" x2="73.5" y2="379.33" stroke="#d0103a" stroke-width="1"/>
<rect x="71.0" y="354.63" width="5" height="15.81" fill="#d0103a"/>
<line x1="78.5" y1="374.77" x2="78.5" y2="394.59" stroke="#d0103a" stroke-width="1"/>
<rect x="76.5" y="376.23" width="4" height="10.12" fill="#fff" stroke="#d0103a" stroke-width="1"/>
<line x1="83.5" y1="339.03" x2="83.5" y2="371.63" stroke="#000" stroke-width="1"/>
<rect x="81.5" y="340.15" width="4" height="30.98" fill="#fff" stroke="#000" stroke-width="1"/>
<line x1="88.5" y1="326.32" x2="88.5" y2="336.6" stroke="#000" stroke-width="1"/>
<rect x="86.5" y="332.84" width="4" height="2.71" fill="#fff" stroke="#000" stroke-width="1"/>
<line x1="93.5" y1="306.1" x2="93.5" y2="325.02" stroke="#000" stroke-width="1"/>
<rect x="91.5" y="315.68" width="4" height="8.84" fill="#fff" stroke="#000" stroke-width="1"/>
<line x1="98.5" y1="311.59" x2="98.5" y2="321.77" stroke="#d0103a" stroke-width="1"/>
<rect x="96.0" y="315.66" width="5" height="1.68" fill="#d0103a"/>
<line x1="103.5" y1="297.78" x2="103.5" y2="315.3" stroke="#000" stroke-width="1"/>
<rect x="101.5" y="305.51" width="4" height="9.28" fill="#fff" stroke="#000" stroke-width="1"/>
<line x1="108.5" y1="293.69" x2="108.5" y2="305.44" stroke="#000" stroke-width="1"/>
<rect x="106.5" y="296.35" width="4" height="8.05" fill="#fff" stroke="#000" stroke-width="1"/>
<line x1="113.5" y1="278.87" x2="113.5" y2="304.32" stroke="#d0103a" stroke-width="1"/>
<rect x="111.0" y="289.02" width="5" height="7.15" fill="#d0103a"/>
<line x1="118.5" y1="286.59" x2="118.5" y2="313.85" stroke="#d0103a" stroke-width="1"/>
<rect x="116.0" y="297.25" width="5" height="6.23" fill="#d0103a"/>
<line x1="123.5" y1="272.02" x2="123.5" y2="309.5" stroke="#000" stroke-width="1"/>
<rect x="121.5" y="277.23" width="4" height="29.71" fill="#fff" stroke="#000" stroke-width="1"/>
<line x1="128.5" y1="284.31" x2="128.5" y2="324.41" stroke="#d0103a" stroke-width="1"/>
<rect x="126.0" y="285.74" width="5" height="38.46" fill="#d0103a"/>
<line x1="133.5" y1="316.18" x2="133.5" y2="338.12" stroke="#d0103a" stroke-width="1"/>
<rect x="131.5" y="326.78" width="4" height="1.08" fill="#fff" stroke="#d0103a" stroke-width="1"/>
<line x1="138.5" y1="298.53" x2="138.5" y2="321.3" stroke="#000" stroke-width="1"/>
<rect x="136.5" y="309.05" width="4" height="4.1" fill="#fff" stroke="#000" stroke-width="1"/>
<line x1="143.5" y1="302.31" x2="143.5" y2="335.72" stroke="#d0103a" stroke-width="1"/>
<rect x="141.0" y="307.44" width="5" height="12.64" fill="#d0103a"/>
<line x1="148.5" y1="307.45" x2="148.5" y2="325.92" stroke="#000" stroke-width="1"/>
<rect x="146.5" y="311.7" width="4" height="4.32" fill="#fff" stroke="#000" stroke-width="1"/>
<line x1="153.5" y1="293.15" x2="153.5" y2="307.87" stroke="#000" stroke-width="1"/>
<rect x="151.5" y="295.07" width="4" height="4.37" fill="#fff" stroke="#000" stroke-width="1"/>
<line x1="158.5" y1="264.16" x2="158.5" y2="282.16" stroke="#000" stroke-width="1"/>
<rect x="156.5" y="266.57" width="4" height="15.09" fill="#fff" stroke="#000" stroke-width="1"/>
<line x1="163.5" y1="261.14" x2="163.5" y2="273.37" stroke="#000" stroke-width="1"/>
<rect x="161.0" y="265.16" width="5" height="1" fill="#000"/>
<line x1="168.5" y1="250.51" x2="168.5" y2="267.81" stroke="#000" stroke-width="1"/>
<rect x="166.0" y="258.39" width="5" height="2.32" fill="#000"/>
<line x1="173.5" y1="253.92" x2="173.5" y2="266.11" stroke="#000" stroke-width="1"/>
<rect x="171.5" y="256.05" width="4" height="3.65" fill="#fff" stroke="#000" stroke-width="1"/>
<line x1="178.5" y1="243.66" x2="178.5" y2="252.45" stroke="#000" stroke-width="1"/>
<rect x="176.5" y="244.58" width="4" height="6.36" fill="#fff" stroke="#000" stroke-width="1"/>
<line x1="183.5" y1="241.34" x2="183.5" y2="254.35" stroke="#000" stroke-width="1"/>
<rect x="181.5" y="241.99" width="4" height="5.26" fill="#fff" stroke="#000" stroke-width="1"/>
<line x1="188.5" y1="249.11" x2="188.5" y2="260.77" stroke="#d0103a" stroke-width="1"/>
<rect x="186.0" y="249.37" width="5" height="7.2" fill="#d0103a"/>
<line x1="193.5" y1="246.68" x2="193.5" y2="255.77" stroke="#000" stroke-width="1"/>
<rect x="191.5" y="248.47" width="4" height="4.88" fill="#fff" stroke="#000" stroke-width="1"/>
<line x1="198.5" y1="243.5" x2="198.5" y2="253.31" stroke="#000" stroke-width="1"/>
<rect x="196.0" y="244.79" width="5" height="3.09" fill="#000"/>
<line x1="203.5" y1="228.88" x2="203.5" y2="239.27" stroke="#000" stroke-width="1"/>
<rect x="201.5" y="232.05" width="4" height="4.59" fill="#fff" stroke="#000" stroke-width="1"/>
<line x1="208.5" y1="229.68" x2="208.5" y2="240.88" stroke="#d0103a" stroke-width="1"/>
<rect x="206.0" y="230.77" width="5" height="2.34" fill="#d0103a"/>
<line x1="213.5" y1="224.19" x2="213.5" y2="237.27" stroke="#000" stroke-width="1"/>
<rect x="211.0" y="227.42" width="5" height="4.43" fill="#000"/>
<line x1="218.5" y1="222.54" x2="218.5" y2="241.76" stroke="#d0103a" stroke-width="1"/>
<rect x="216.0" y="224.2" width="5" height="13.28" fill="#d0103a"/>
<line x1="223.5" y1="230.71" x2="223.5" y2="244.8" stroke="#000" stroke-width="1"/>
<rect x="221.5" y="234.08" width="4" height="0.5" fill="#fff" stroke="#000" stroke-width="1"/>
<line x1="228.5" y1="229.76" x2="228.5" y2="240.99" stroke="#000" stroke-width="1"/>
<rect x="226.5" y="231.57" width="4" height="6.84" fill="#fff" stroke="#000" stroke-width="1"/>
<line x1="233.5" y1="207.04" x2="233.5" y2="230.59" stroke="#000" stroke-width="1"/>
<rect x="231.5" y="209.76" width="4" height="19.09" fill="#fff" stroke="#000" stroke-width="1"/>
<line x1="238.5" y1="206.6" x2="238.5" y2="215.71" stroke="#d0103a" stroke-width="1"/>
<rect x="236.0" y="208.99" width="5" height="5.71" fill="#d0103a"/>
<line x1="243.5" y1="209.75" x2="243.5" y2="226.93" stroke="#d0103a" stroke-width="1"/>
<rect x="241.0" y="213.22" width="5" height="2.39" fill="#d0103a"/>
<line x1="248.5" y1="204.03" x2="248.5" y2="222.91" stroke="#000" stroke-width="1"/>
<rect x="246.5" y="204.53" width="4" height="10.89" fill="#fff" stroke="#000" stroke-width="1"/>
<line x1="253.5" y1="195.92" x2="253.5" y2="204.47" stroke="#000" stroke-width="1"/>
<rect x="251.5" y="201.87" width="4" height="1.06" fill="#fff" stroke="#000" stroke-width="1"/>
<line x1="258.5" y1="197.01" x2="258.5" y2="217.36" stroke="#000" stroke-width="1"/>
<rect x="256.5" y="199.52" width="4" height="6.32" fill="#fff" stroke="#000" stroke-width="1"/>
<line x1="263.5" y1="192.05" x2="263.5" y2="217.99" stroke="#d0103a" stroke-width="1"/>
<rect x="261.0" y="193.56" width="5" height="24.12" fill="#d0103a"/>
<line x1="268.5" y1="210.95" x2="268.5" y2="237.45" stroke="#d0103a" stroke-width="1"/>
<rect x="266.0" y="219.01" width="5" height="3.94" fill="#d0103a"/>
<line x1="273.5" y1="197.32" x2="273.5" y2="213.04" stroke="#000" stroke-width="1"/>
<rect x="271.5" y="199.68" width="4" height="12.86" fill="#fff" stroke="#000" stroke-width="1"/>
<line x1="278.5" y1="206.19" x2="278.5" y2="239.4" stroke="#d0103a" stroke-width="1"/>
<rect x="276.5" y="210.78" width="4" height="19.01" fill="#fff" stroke="#d0103a" stroke-width="1"/>
<line x1="283.5" y1="226.76" x2="283.5" y2="270.04" stroke="#d0103a" stroke-width="1"/>
<rect x="281.0" y="226.76" width="5" height="24.78" fill="#d0103a"/>
<line x1="288.5" y1="239.62" x2="288.5" y2="260.81" stroke="#d0103a" stroke-width="1"/>
<rect x="286.0" y="255.36" width="5" height="1" fill="#d0103a"/>
<line x1="293.5" y1="258.49" x2="293.5" y2="292.82" stroke="#d0103a" stroke-width="1"/>
<rect x="291.5" y="263.52" width="4" height="8.41" fill="#fff" stroke="#d0103a" stroke-width="1"/>
<line x1="298.5" y1="245.31" x2="298.5" y2="302.46" stroke="#000" stroke-width="1"/>
<rect x="296.5" y="254.32" width="4" height="14.79" fill="#fff" stroke="#000" stroke-width="1"/>
<line x1="303.5" y1="289.51" x2="303.5" y2="323.56" stroke="#d0103a" stroke-width="1"/>
<rect x="301.0" y="289.51" width="5" height="24.83" fill="#d0103a"/>
<line x1="308.5" y1="278.76" x2="308.5" y2="307.09" stroke="#000" stroke-width="1"/>
<rect x="306.5" y="295.06" width="4" height="11.52" fill="#fff" stroke="#000" stroke-width="1"/>
<line x1="313.5" y1="273.43" x2="313.5" y2="311.52" stroke="#000" stroke-width="1"/>
<rect x="311.5" y="280.63" width="4" height="25.72" fill="#fff" stroke="#000" stroke-width="1"/>
<line x1="318.5" y1="244.59" x2="318.5" y2="275.93" stroke="#000" stroke-width="1"/>
<rect x="316.5" y="258.69" width="4" height="16.74" fill="#fff" stroke="#000" stroke-width="1"/>
<line x1="323.5" y1="250.31" x2="323.5" y2="277.29" stroke="#d0103a" stroke-width="1"/>
<rect x="321.5" y="273.2" width="4" height="0.5" fill="#fff" stroke="#d0103a" stroke-width="1"/>
<line x1="328.5" y1="277.62" x2="328.5" y2="297.29" stroke="#d0103a" stroke-width="1"/>
<rect x="326.0" y="287.99" width="5" height="1.49" fill="#d0103a"/>
<line x1="333.5" y1="264.61" x2="333.5" y2="277.48" stroke="#000" stroke-width="1"/>
<rect x="331.5" y="269.01" width="4" height="7.96" fill="#fff" stroke="#000" stroke-width="1"/>
<line x1="338.5" y1="267.55" x2="338.5" y2="280" stroke="#d0103a" stroke-width="1"/>
<rect x="336.5" y="276.02" width="4" height="0.5" fill="#fff" stroke="#d0103a" stroke-width="1"/>
<line x1="343.5" y1="292.56" x2="343.5" y2="319.97" stroke="#d0103a" stroke-width="1"/>
<rect x="341.0" y="292.56" width="5" height="12.66" fill="#d0103a"/>
<line x1="348.5" y1="288.49" x2="348.5" y2="307.02" stroke="#000" stroke-width="1"/>
<rect x="346.0" y="296.31" width="5" height="5.56" fill="#000"/>
<line x1="353.5" y1="289.23" x2="353.5" y2="323.43" stroke="#d0103a" stroke-width="1"/>
<rect x="351.0" y="298.39" width="5" height="24.32" fill="#d0103a"/>
<line x1="358.5" y1="331.89" x2="358.5" y2="355.05" stroke="#d0103a" stroke-width="1"/>
<rect x="356.0" y="333.47" width="5" height="6.43" fill="#d0103a"/>
<line x1="363.5" y1="325.71" x2="363.5" y2="345.5" stroke="#000" stroke-width="1"/>
<rect x="361.5" y="335.21" width="4" height="0.71" fill="#fff" stroke="#000" stroke-width="1"/>
<line x1="368.5" y1="352.43" x2="368.5" y2="369.01" stroke="#d0103a" stroke-width="1"/>
<rect x="366.0" y="354.97" width="5" height="12.65" fill="#d0103a"/>
<line x1="373.5" y1="357.73" x2="373.5" y2="388.65" stroke="#d0103a" stroke-width="1"/>
<rect x="371.0" y="368.1" width="5" height="6.38" fill="#d0103a"/>
<line x1="378.5" y1="320.86" x2="378.5" y2="358.11" stroke="#000" stroke-width="1"/>
<rect x="376.5" y="322.44" width="4" height="35.18" fill="#fff" stroke="#000" stroke-width="1"/>
<line x1="383.5" y1="300.8" x2="383.5" y2="324.01" stroke="#000" stroke-width="1"/>
<rect x="381.5" y="302.29" width="4" height="6.08" fill="#fff" stroke="#000" stroke-width="1"/>
<line x1="388.5" y1="279.14" x2="388.5" y2="305.04" stroke="#000" stroke-width="1"/>
<rect x="386.5" y="287.14" width="4" height="12.09" fill="#fff" stroke="#000" stroke-width="1"/>
<line x1="393.5" y1="250.75" x2="393.5" y2="278.48" stroke="#000" stroke-width="1"/>
<rect x="391.5" y="261.26" width="4" height="16.72" fill="#fff" stroke="#000" stroke-width="1"/>
<line x1="398.5" y1="233.8" x2="398.5" y2="250.28" stroke="#000" stroke-width="1"/>
<rect x="396.5" y="249.74" width="4" height="0.5" fill="#fff" stroke="#000" stroke-width="1"/>
<line x1="403.5" y1="228.82" x2="403.5" y2="256.29" stroke="#d0103a" stroke-width="1"/>
<rect x="401.0" y="235.08" width="5" height="15.02" fill="#d0103a"/>
<line x1="408.5" y1="247.66" x2="408.5" y2="259.6" stroke="#d0103a" stroke-width="1"/>
<rect x="406.0" y="252.67" width="5" height="2.49" fill="#d0103a"/>
<line x1="413.5" y1="241.94" x2="413.5" y2="253.31" stroke="#000" stroke-width="1"/>
<rect x="411.5" y="245.53" width="4" height="3.63" fill="#fff" stroke="#000" stroke-width="1"/>
<line x1="418.5" y1="242.62" x2="418.5" y2="255.35" stroke="#d0103a" stroke-width="1"/>
<rect x="416.5" y="249.52" width="4" height="0.5" fill="#fff" stroke="#d0103a" stroke-width="1"/>
<line x1="423.5" y1="240.21" x2="423.5" y2="248.75" stroke="#000" stroke-width="1"/>
<rect x="421.0" y="246.65" width="5" height="1" fill="#000"/>
<line x1="428.5" y1="211.7" x2="428.5" y2="233.23" stroke="#000" stroke-width="1"/>
<rect x="426.5" y="223.25" width="4" height="8.39" fill="#fff" stroke="#000" stroke-width="1"/>
<line x1="433.5" y1="210.9" x2="433.5" y2="228.12" stroke="#000" stroke-width="1"/>
<rect x="431.5" y="215.87" width="4" height="4.01" fill="#fff" stroke="#000" stroke-width="1"/>
<line x1="438.5" y1="188.75" x2="438.5" y2="211.1" stroke="#000" stroke-width="1"/>
<rect x="436.5" y="192.5" width="4" height="2.84" fill="#fff" stroke="#000" stroke-width="1"/>
<line x1="443.5" y1="183.65" x2="443.5" y2="198.14" stroke="#d0103a" stroke-width="1"/>
<rect x="441.0" y="193.24" width="5" height="1.89" fill="#d0103a"/>
<line x1="448.5" y1="191.38" x2="448.5" y2="200.52" stroke="#d0103a" stroke-width="1"/>
<rect x="446.0" y="194.32" width="5" height="5.1" fill="#d0103a"/>
<line x1="453.5" y1="198.44" x2="453.5" y2="224.23" stroke="#d0103a" stroke-width="1"/>
<rect x="451.0" y="199.06" width="5" height="24.01" fill="#d0103a"/>
<line x1="458.5" y1="210.18" x2="458.5" y2="226.8" stroke="#d0103a" stroke-width="1"/>
<rect x="456.0" y="215.7" width="5" height="10.43" fill="#d0103a"/>
<line x1="463.5" y1="212.96" x2="463.5" y2="222.06" stroke="#000" stroke-width="1"/>
<rect x="461.5" y="217.17" width="4" height="3.46" fill="#fff" stroke="#000" stroke-width="1"/>
<line x1="468.5" y1="200.57" x2="468.5" y2="213.17" stroke="#000" stroke-width="1"/>
<rect x="466.5" y="202.94" width="4" height="6.44" fill="#fff" stroke="#000" stroke-width="1"/>
<line x1="473.5" y1="172.16" x2="473.5" y2="193.65" stroke="#000" stroke-width="1"/>
<rect x="471.0" y="177.59" width="5" height="5.91" fill="#000"/>
<line x1="478.5" y1="176.09" x2="478.5" y2="190.54" stroke="#000" stroke-width="1"/>
<rect x="476.5" y="176.76" width="4" height="5.97" fill="#fff" stroke="#000" stroke-width="1"/>
<line x1="483.5" y1="157.3" x2="483.5" y2="172.14" stroke="#000" stroke-width="1"/>
<rect x="481.5" y="157.82" width="4" height="13.72" fill="#fff" stroke="#000" stroke-width="1"/>
<line x1="488.5" y1="158.8" x2="488.5" y2="180.46" stroke="#d0103a" stroke-width="1"/>
<rect x="486.5" y="162.3" width="4" height="4.11" fill="#fff" stroke="#d0103a" stroke-width="1"/>
<line x1="493.5" y1="169.81" x2="493.5" y2="178.69" stroke="#d0103a" stroke-width="1"/>
<rect x="491.0" y="170.63" width="5" height="3.18" fill="#d0103a"/>
<line x1="498.5" y1="168.86" x2="498.5" y2="184.25" stroke="#000" stroke-width="1"/>
<rect x="496.5" y="171.25" width="4" height="10.76" fill="#fff" stroke="#000" stroke-width="1"/>
<line x1="503.5" y1="151.4" x2="503.5" y2="166.6" stroke="#000" stroke-width="1"/>
<rect x="501.5" y="160.1" width="4" height="2.12" fill="#fff" stroke="#000" stroke-width="1"/>
<line x1="508.5" y1="151.94" x2="508.5" y2="163.13" stroke="#000" stroke-width="1"/>
<rect x="506.5" y="154.44" width="4" height="0.5" fill="#fff" stroke="#000" stroke-width="1"/>
<line x1="513.5" y1="142.39" x2="513.5" y2="152.32" stroke="#000" stroke-width="1"/>
<rect x="511.5" y="143.02" width="4" height="7.57" fill="#fff" stroke="#000" stroke-width="1"/>
<line x1="518.5" y1="139.21" x2="518.5" y2="146.63" stroke="#000" stroke-width="1"/>
<rect x="516.0" y="139.21" width="5" height="2.88" fill="#000"/>
<line x1="523.5" y1="141.49" x2="523.5" y2="152.91" stroke="#d0103a" stroke-width="1"/>
<rect x="521.0" y="143.87" width="5" height="6.66" fill="#d0103a"/>
<line x1="528.5" y1="149.52" x2="528.5" y2="166.91" stroke="#d0103a" stroke-width="1"/>
<rect x="526.0" y="149.66" width="5" height="17.11" fill="#d0103a"/>
<line x1="533.5" y1="155.29" x2="533.5" y2="176.19" stroke="#000" stroke-width="1"/>
<rect x="531.5" y="158.41" width="4" height="12.47" fill="#fff" stroke="#000" stroke-width="1"/>
<line x1="538.5" y1="148.9" x2="538.5" y2="173.88" stroke="#d0103a" stroke-width="1"/>
<rect x="536.0" y="150.35" width="5" height="22.91" fill="#d0103a"/>
<line x1="543.5" y1="161.55" x2="543.5" y2="173.23" stroke="#000" stroke-width="1"/>
<rect x="541.5" y="166.76" width="4" height="1.57" fill="#fff" stroke="#000" stroke-width="1"/>
<line x1="548.5" y1="149" x2="548.5" y2="163.33" stroke="#000" stroke-width="1"/>
<rect x="546.5" y="149.85" width="4" height="7.86" fill="#fff" stroke="#000" stroke-width="1"/>
<line x1="553.5" y1="137.74" x2="553.5" y2="156.49" stroke="#000" stroke-width="1"/>
<rect x="551.5" y="138.26" width="4" height="16.12" fill="#fff" stroke="#000" stroke-width="1"/>
<line x1="558.5" y1="140.43" x2="558.5" y2="156.15" stroke="#d0103a" stroke-width="1"/>
<rect x="556.0" y="140.47" width="5" height="10.36" fill="#d0103a"/>
<line x1="563.5" y1="130.86" x2="563.5" y2="143.49" stroke="#000" stroke-width="1"/>
<rect x="561.5" y="133.1" width="4" height="9.35" fill="#fff" stroke="#000" stroke-width="1"/>
<line x1="568.5" y1="132.8" x2="568.5" y2="142.08" stroke="#d0103a" stroke-width="1"/>
<rect x="566.0" y="133.73" width="5" height="2.87" fill="#d0103a"/>
<line x1="573.5" y1="139.71" x2="573.5" y2="153.09" stroke="#d0103a" stroke-width="1"/>
<rect x="571.5" y="143.5" width="4" height="3.54" fill="#fff" stroke="#d0103a" stroke-width="1"/>
<line x1="578.5" y1="139.53" x2="578.5" y2="188.73" stroke="#d0103a" stroke-width="1"/>
<rect x="576.0" y="140.5" width="5" height="29.62" fill="#d0103a"/>
<line x1="583.5" y1="142.66" x2="583.5" y2="199.52" stroke="#d0103a" stroke-width="1"/>
<rect x="581.0" y="170.17" width="5" height="22.35" fill="#d0103a"/>
<line x1="588.5" y1="199.3" x2="588.5" y2="225.84" stroke="#d0103a" stroke-width="1"/>
<rect x="586.0" y="200.64" width="5" height="9.99" fill="#d0103a"/>
<line x1="593.5" y1="239.52" x2="593.5" y2="305.33" stroke="#d0103a" stroke-width="1"/>
<rect x="591.0" y="239.52" width="5" height="46.02" fill="#d0103a"/>
<line x1="598.5" y1="251.24" x2="598.5" y2="283.21" stroke="#000" stroke-width="1"/>
<rect x="596.5" y="254" width="4" height="16.77" fill="#fff" stroke="#000" stroke-width="1"/>
<line x1="603.5" y1="244.57" x2="603.5" y2="302.18" stroke="#000" stroke-width="1"/>
<rect x="601.5" y="252.1" width="4" height="20.86" fill="#fff" stroke="#000" stroke-width="1"/>
<line x1="608.5" y1="205.01" x2="608.5" y2="242.6" stroke="#000" stroke-width="1"/>
<rect x="606.5" y="206.04" width="4" height="34.58" fill="#fff" stroke="#000" stroke-width="1"/>
<line x1="613.5" y1="207.51" x2="613.5" y2="237.74" stroke="#d0103a" stroke-width="1"/>
<rect x="611.0" y="211.94" width="5" height="10.05" fill="#d0103a"/>
<line x1="618.5" y1="231.4" x2="618.5" y2="260.93" stroke="#d0103a" stroke-width="1"/>
<rect x="616.0" y="231.84" width="5" height="20.86" fill="#d0103a"/>
</g>
<line x1="1.5" y1="228" x2="625.5" y2="228" stroke="#2cc83c" stroke-width="2"/>
<line x1="1.5" y1="254.5" x2="625.5" y2="254.5" stroke="#36c036" stroke-width="1.2"/>
<line x1="1.5" y1="281" x2="625.5" y2="281" stroke="#0d1acc" stroke-width="2"/>
<line x1="1.5" y1="307" x2="625.5" y2="307" stroke="#b4103a" stroke-width="1.6"/>
<line x1="1.5" y1="360" x2="625.5" y2="360" stroke="#e0101e" stroke-width="2.4"/>
<rect x="418.5" y="306.5" width="153" height="20.5" fill="none" stroke="#444" stroke-width="1" stroke-dasharray="2,2"/>
<rect x="416.5" y="304.5" width="4" height="4" fill="#ffe030" stroke="#d8b000" stroke-width="0.6"/>
<rect x="569.5" y="304.5" width="4" height="4" fill="#ffe030" stroke="#d8b000" stroke-width="0.6"/>
<rect x="416.5" y="325" width="4" height="4" fill="#ffe030" stroke="#d8b000" stroke-width="0.6"/>
<rect x="569.5" y="325" width="4" height="4" fill="#ffe030" stroke="#d8b000" stroke-width="0.6"/>
<text x="54.5" y="223.3" font-family="Liberation Sans, Arial, sans-serif" font-size="13.4" font-weight="bold" fill="#2ee02e" textLength="96.5" lengthAdjust="spacingAndGlyphs">Strong bounce</text>
<text x="55.5" y="252.7" font-family="Liberation Sans, Arial, sans-serif" font-size="13.4" font-weight="bold" fill="#2ee02e" textLength="89" lengthAdjust="spacingAndGlyphs">Weak bounce</text>
<text x="419.3" y="319.7" font-family="Liberation Sans, Arial, sans-serif" font-size="13.8" font-weight="bold" fill="#d8102c" textLength="97" lengthAdjust="spacingAndGlyphs">Strong bounce</text>
<text x="479" y="373.4" font-family="Liberation Sans, Arial, sans-serif" font-size="13.8" font-weight="bold" fill="#d8102c" textLength="88.5" lengthAdjust="spacingAndGlyphs">Weak bounce</text>
<clipPath id="cmd"><rect x="1.5" y="415.5" width="624.0" height="97.0"/></clipPath>
<line x1="1.5" y1="424.5" x2="625.5" y2="424.5" stroke="#e8e8e8" stroke-width="1"/>
<line x1="1.5" y1="435.5" x2="625.5" y2="435.5" stroke="#e8e8e8" stroke-width="1"/>
<line x1="1.5" y1="447.5" x2="625.5" y2="447.5" stroke="#e8e8e8" stroke-width="1"/>
<line x1="1.5" y1="458.5" x2="625.5" y2="458.5" stroke="#e8e8e8" stroke-width="1"/>
<line x1="1.5" y1="470.5" x2="625.5" y2="470.5" stroke="#e8e8e8" stroke-width="1"/>
<line x1="1.5" y1="481.5" x2="625.5" y2="481.5" stroke="#e8e8e8" stroke-width="1"/>
<line x1="1.5" y1="492.5" x2="625.5" y2="492.5" stroke="#e8e8e8" stroke-width="1"/>
<line x1="1.5" y1="504.5" x2="625.5" y2="504.5" stroke="#e8e8e8" stroke-width="1"/>
<line x1="13.5" y1="415.5" x2="13.5" y2="512.5" stroke="#e4e4e4" stroke-width="1"/>
<line x1="33.5" y1="415.5" x2="33.5" y2="512.5" stroke="#e4e4e4" stroke-width="1"/>
<line x1="53.5" y1="415.5" x2="53.5" y2="512.5" stroke="#cacaca" stroke-width="1"/>
<line x1="58.5" y1="415.5" x2="58.5" y2="512.5" stroke="#e4e4e4" stroke-width="1"/>
<line x1="83.5" y1="415.5" x2="83.5" y2="512.5" stroke="#e4e4e4" stroke-width="1"/>
<line x1="108.5" y1="415.5" x2="108.5" y2="512.5" stroke="#e4e4e4" stroke-width="1"/>
<line x1="133.5" y1="415.5" x2="133.5" y2="512.5" stroke="#e4e4e4" stroke-width="1"/>
<line x1="158.5" y1="415.5" x2="158.5" y2="512.5" stroke="#cacaca" stroke-width="1"/>
<line x1="183.5" y1="415.5" x2="183.5" y2="512.5" stroke="#e4e4e4" stroke-width="1"/>
<line x1="208.5" y1="415.5" x2="208.5" y2="512.5" stroke="#e4e4e4" stroke-width="1"/>
<line x1="228.5" y1="415.5" x2="228.5" y2="512.5" stroke="#e4e4e4" stroke-width="1"/>
<line x1="253.5" y1="415.5" x2="253.5" y2="512.5" stroke="#e4e4e4" stroke-width="1"/>
<line x1="263.5" y1="415.5" x2="263.5" y2="512.5" stroke="#cacaca" stroke-width="1"/>
<line x1="278.5" y1="415.5" x2="278.5" y2="512.5" stroke="#e4e4e4" stroke-width="1"/>
<line x1="303.5" y1="415.5" x2="303.5" y2="512.5" stroke="#e4e4e4" stroke-width="1"/>
<line x1="328.5" y1="415.5" x2="328.5" y2="512.5" stroke="#e4e4e4" stroke-width="1"/>
<line x1="353.5" y1="415.5" x2="353.5" y2="512.5" stroke="#e4e4e4" stroke-width="1"/>
<line x1="373.5" y1="415.5" x2="373.5" y2="512.5" stroke="#cacaca" stroke-width="1"/>
<line x1="398.5" y1="415.5" x2="398.5" y2="512.5" stroke="#e4e4e4" stroke-width="1"/>
<line x1="423.5" y1="415.5" x2="423.5" y2="512.5" stroke="#e4e4e4" stroke-width="1"/>
<line x1="448.5" y1="415.5" x2="448.5" y2="512.5" stroke="#e4e4e4" stroke-width="1"/>
<line x1="473.5" y1="415.5" x2="473.5" y2="512.5" stroke="#cacaca" stroke-width="1"/>
<line x1="493.5" y1="415.5" x2="493.5" y2="512.5" stroke="#e4e4e4" stroke-width="1"/>
<line x1="518.5" y1="415.5" x2="518.5" y2="512.5" stroke="#e4e4e4" stroke-width="1"/>
<line x1="543.5" y1="415.5" x2="543.5" y2="512.5" stroke="#e4e4e4" stroke-width="1"/>
<line x1="568.5" y1="415.5" x2="568.5" y2="512.5" stroke="#e4e4e4" stroke-width="1"/>
<line x1="583.5" y1="415.5" x2="583.5" y2="512.5" stroke="#cacaca" stroke-width="1"/>
<line x1="593.5" y1="415.5" x2="593.5" y2="512.5" stroke="#e4e4e4" stroke-width="1"/>
<line x1="618.5" y1="415.5" x2="618.5" y2="512.5" stroke="#e4e4e4" stroke-width="1"/>
<g clip-path="url(#cmd)">
<g>
<rect x="-4.0" y="465.15" width="5" height="4.95" fill="#4ea6da"/>
<path d="M-3.5,470.1 V465.65 H1.0" fill="none" stroke="#1d5f8a" stroke-width="1"/>
<rect x="1.0" y="466.02" width="5" height="4.08" fill="#4ea6da"/>
<path d="M1.5,470.1 V466.52 H6.0" fill="none" stroke="#1d5f8a" stroke-width="1"/>
<rect x="6.0" y="464.96" width="5" height="5.14" fill="#4ea6da"/>
<path d="M6.5,470.1 V465.46 H11.0" fill="none" stroke="#1d5f8a" stroke-width="1"/>
<rect x="11.0" y="464.62" width="5" height="5.48" fill="#4ea6da"/>
<path d="M11.5,470.1 V465.12 H16.0" fill="none" stroke="#1d5f8a" stroke-width="1"/>
<rect x="16.0" y="464.71" width="5" height="5.39" fill="#4ea6da"/>
<path d="M16.5,470.1 V465.21 H21.0" fill="none" stroke="#1d5f8a" stroke-width="1"/>
<rect x="21.0" y="466.14" width="5" height="3.96" fill="#4ea6da"/>
<path d="M21.5,470.1 V466.64 H26.0" fill="none" stroke="#1d5f8a" stroke-width="1"/>
<rect x="26.0" y="466.35" width="5" height="3.75" fill="#4ea6da"/>
<path d="M26.5,470.1 V466.85 H31.0" fill="none" stroke="#1d5f8a" stroke-width="1"/>
<rect x="31.0" y="466.83" width="5" height="3.27" fill="#4ea6da"/>
<path d="M31.5,470.1 V467.33 H36.0" fill="none" stroke="#1d5f8a" stroke-width="1"/>
<rect x="36.0" y="467.87" width="5" height="2.23" fill="#4ea6da"/>
<path d="M36.5,470.1 V468.37 H41.0" fill="none" stroke="#1d5f8a" stroke-width="1"/>
<rect x="41.0" y="469.17" width="5" height="0.93" fill="#4ea6da"/>
<path d="M41.5,470.1 V469.67 H46.0" fill="none" stroke="#1d5f8a" stroke-width="1"/>
<rect x="46.0" y="470.1" width="5" height="0.92" fill="#4ea6da"/>
<path d="M46.5,470.1 V470.52 H51.0" fill="none" stroke="#1d5f8a" stroke-width="1"/>
<rect x="51.0" y="470.1" width="5" height="1.05" fill="#4ea6da"/>
<path d="M51.5,470.1 V470.65 H56.0" fill="none" stroke="#1d5f8a" stroke-width="1"/>
<rect x="56.0" y="470.1" width="5" height="2.28" fill="#4ea6da"/>
<path d="M56.5,470.1 V471.88 H61.0" fill="none" stroke="#1d5f8a" stroke-width="1"/>
<rect x="61.0" y="470.1" width="5" height="3.57" fill="#4ea6da"/>
<path d="M61.5,470.1 V473.17 H66.0" fill="none" stroke="#1d5f8a" stroke-width="1"/>
<rect x="66.0" y="470.1" width="5" height="5.91" fill="#4ea6da"/>
<path d="M66.5,470.1 V475.51 H71.0" fill="none" stroke="#1d5f8a" stroke-width="1"/>
<rect x="71.0" y="470.1" width="5" height="9.09" fill="#4ea6da"/>
<path d="M71.5,470.1 V478.69 H76.0" fill="none" stroke="#1d5f8a" stroke-width="1"/>
<rect x="76.0" y="470.1" width="5" height="11.4" fill="#4ea6da"/>
<path d="M76.5,470.1 V481 H81.0" fill="none" stroke="#1d5f8a" stroke-width="1"/>
<rect x="81.0" y="470.1" width="5" height="9.66" fill="#4ea6da"/>
<path d="M81.5,470.1 V479.26 H86.0" fill="none" stroke="#1d5f8a" stroke-width="1"/>
<rect x="86.0" y="470.1" width="5" height="7.79" fill="#4ea6da"/>
<path d="M86.5,470.1 V477.39 H91.0" fill="none" stroke="#1d5f8a" stroke-width="1"/>
<rect x="91.0" y="470.1" width="5" height="5.09" fill="#4ea6da"/>
<path d="M91.5,470.1 V474.69 H96.0" fill="none" stroke="#1d5f8a" stroke-width="1"/>
<rect x="96.0" y="470.1" width="5" height="3.6" fill="#4ea6da"/>
<path d="M96.5,470.1 V473.2 H101.0" fill="none" stroke="#1d5f8a" stroke-width="1"/>
<rect x="101.0" y="470.1" width="5" height="1.73" fill="#4ea6da"/>
<path d="M101.5,470.1 V471.33 H106.0" fill="none" stroke="#1d5f8a" stroke-width="1"/>
<rect x="106.0" y="470.09" width="5" height="0.3" fill="#4ea6da"/>
<path d="M106.5,470.1 V470.59 H111.0" fill="none" stroke="#1d5f8a" stroke-width="1"/>
<rect x="111.0" y="469.3" width="5" height="0.8" fill="#4ea6da"/>
<path d="M111.5,470.1 V469.8 H116.0" fill="none" stroke="#1d5f8a" stroke-width="1"/>
<rect x="116.0" y="469.73" width="5" height="0.37" fill="#4ea6da"/>
<path d="M116.5,470.1 V470.23 H121.0" fill="none" stroke="#1d5f8a" stroke-width="1"/>
<rect x="121.0" y="468.07" width="5" height="2.03" fill="#4ea6da"/>
<path d="M121.5,470.1 V468.57 H126.0" fill="none" stroke="#1d5f8a" stroke-width="1"/>
<rect x="126.0" y="470.1" width="5" height="1.25" fill="#4ea6da"/>
<path d="M126.5,470.1 V470.85 H131.0" fill="none" stroke="#1d5f8a" stroke-width="1"/>
<rect x="131.0" y="470.1" width="5" height="3.7" fill="#4ea6da"/>
<path d="M131.5,470.1 V473.3 H136.0" fill="none" stroke="#1d5f8a" stroke-width="1"/>
<rect x="136.0" y="470.1" width="5" height="3.85" fill="#4ea6da"/>
<path d="M136.5,470.1 V473.45 H141.0" fill="none" stroke="#1d5f8a" stroke-width="1"/>
<rect x="141.0" y="470.1" width="5" height="4.95" fill="#4ea6da"/>
<path d="M141.5,470.1 V474.55 H146.0" fill="none" stroke="#1d5f8a" stroke-width="1"/>
<rect x="146.0" y="470.1" width="5" height="4.91" fill="#4ea6da"/>
<path d="M146.5,470.1 V474.51 H151.0" fill="none" stroke="#1d5f8a" stroke-width="1"/>
<rect x="151.0" y="470.1" width="5" height="3.48" fill="#4ea6da"/>
<path d="M151.5,470.1 V473.08 H156.0" fill="none" stroke="#1d5f8a" stroke-width="1"/>
<rect x="156.0" y="470.1" width="5" height="0.3" fill="#4ea6da"/>
<path d="M156.5,470.1 V469.85 H161.0" fill="none" stroke="#1d5f8a" stroke-width="1"/>
<rect x="161.0" y="468.54" width="5" height="1.56" fill="#4ea6da"/>
<path d="M161.5,470.1 V469.04 H166.0" fill="none" stroke="#1d5f8a" stroke-width="1"/>
<rect x="166.0" y="467.27" width="5" height="2.83" fill="#4ea6da"/>
<path d="M166.5,470.1 V467.77 H171.0" fill="none" stroke="#1d5f8a" stroke-width="1"/>
<rect x="171.0" y="466.44" width="5" height="3.66" fill="#4ea6da"/>
<path d="M171.5,470.1 V466.94 H176.0" fill="none" stroke="#1d5f8a" stroke-width="1"/>
<rect x="176.0" y="465.38" width="5" height="4.72" fill="#4ea6da"/>
<path d="M176.5,470.1 V465.88 H181.0" fill="none" stroke="#1d5f8a" stroke-width="1"/>
<rect x="181.0" y="465.01" width="5" height="5.09" fill="#4ea6da"/>
<path d="M181.5,470.1 V465.51 H186.0" fill="none" stroke="#1d5f8a" stroke-width="1"/>
<rect x="186.0" y="466.59" width="5" height="3.51" fill="#4ea6da"/>
<path d="M186.5,470.1 V467.09 H191.0" fill="none" stroke="#1d5f8a" stroke-width="1"/>
<rect x="191.0" y="467.32" width="5" height="2.78" fill="#4ea6da"/>
<path d="M191.5,470.1 V467.82 H196.0" fill="none" stroke="#1d5f8a" stroke-width="1"/>
<rect x="196.0" y="468.2" width="5" height="1.9" fill="#4ea6da"/>
<path d="M196.5,470.1 V468.7 H201.0" fill="none" stroke="#1d5f8a" stroke-width="1"/>
<rect x="201.0" y="467.75" width="5" height="2.35" fill="#4ea6da"/>
<path d="M201.5,470.1 V468.25 H206.0" fill="none" stroke="#1d5f8a" stroke-width="1"/>
<rect x="206.0" y="468.03" width="5" height="2.07" fill="#4ea6da"/>
<path d="M206.5,470.1 V468.53 H211.0" fill="none" stroke="#1d5f8a" stroke-width="1"/>
<rect x="211.0" y="468.5" width="5" height="1.6" fill="#4ea6da"/>
<path d="M211.5,470.1 V469 H216.0" fill="none" stroke="#1d5f8a" stroke-width="1"/>
<rect x="216.0" y="469.66" width="5" height="0.44" fill="#4ea6da"/>
<path d="M216.5,470.1 V470.16 H221.0" fill="none" stroke="#1d5f8a" stroke-width="1"/>
<rect x="221.0" y="470.1" width="5" height="0.3" fill="#4ea6da"/>
<path d="M221.5,470.1 V469.89 H226.0" fill="none" stroke="#1d5f8a" stroke-width="1"/>
<rect x="226.0" y="470.1" width="5" height="0.82" fill="#4ea6da"/>
<path d="M226.5,470.1 V470.42 H231.0" fill="none" stroke="#1d5f8a" stroke-width="1"/>
<rect x="231.0" y="469.64" width="5" height="0.46" fill="#4ea6da"/>
<path d="M231.5,470.1 V470.14 H236.0" fill="none" stroke="#1d5f8a" stroke-width="1"/>
<rect x="236.0" y="469.64" width="5" height="0.46" fill="#4ea6da"/>
<path d="M236.5,470.1 V470.14 H241.0" fill="none" stroke="#1d5f8a" stroke-width="1"/>
<rect x="241.0" y="470.04" width="5" height="0.3" fill="#4ea6da"/>
<path d="M241.5,470.1 V470.54 H246.0" fill="none" stroke="#1d5f8a" stroke-width="1"/>
<rect x="246.0" y="469.61" width="5" height="0.49" fill="#4ea6da"/>
<path d="M246.5,470.1 V470.11 H251.0" fill="none" stroke="#1d5f8a" stroke-width="1"/>
<rect x="251.0" y="469.44" width="5" height="0.66" fill="#4ea6da"/>
<path d="M251.5,470.1 V469.94 H256.0" fill="none" stroke="#1d5f8a" stroke-width="1"/>
<rect x="256.0" y="469.47" width="5" height="0.63" fill="#4ea6da"/>
<path d="M256.5,470.1 V469.97 H261.0" fill="none" stroke="#1d5f8a" stroke-width="1"/>
<rect x="261.0" y="470.1" width="5" height="1.34" fill="#4ea6da"/>
<path d="M261.5,470.1 V470.94 H266.0" fill="none" stroke="#1d5f8a" stroke-width="1"/>
<rect x="266.0" y="470.1" width="5" height="3.26" fill="#4ea6da"/>
<path d="M266.5,470.1 V472.86 H271.0" fill="none" stroke="#1d5f8a" stroke-width="1"/>
<rect x="271.0" y="470.1" width="5" height="2.55" fill="#4ea6da"/>
<path d="M271.5,470.1 V472.15 H276.0" fill="none" stroke="#1d5f8a" stroke-width="1"/>
<rect x="276.0" y="470.1" width="5" height="3.22" fill="#4ea6da"/>
<path d="M276.5,470.1 V472.82 H281.0" fill="none" stroke="#1d5f8a" stroke-width="1"/>
<rect x="281.0" y="470.1" width="5" height="7.28" fill="#4ea6da"/>
<path d="M281.5,470.1 V476.88 H286.0" fill="none" stroke="#1d5f8a" stroke-width="1"/>
<rect x="286.0" y="470.1" width="5" height="10.05" fill="#4ea6da"/>
<path d="M286.5,470.1 V479.65 H291.0" fill="none" stroke="#1d5f8a" stroke-width="1"/>
<rect x="291.0" y="470.1" width="5" height="12.14" fill="#4ea6da"/>
<path d="M291.5,470.1 V481.74 H296.0" fill="none" stroke="#1d5f8a" stroke-width="1"/>
<rect x="296.0" y="470.1" width="5" height="12.25" fill="#4ea6da"/>
<path d="M296.5,470.1 V481.85 H301.0" fill="none" stroke="#1d5f8a" stroke-width="1"/>
<rect x="301.0" y="470.1" width="5" height="16.93" fill="#4ea6da"/>
<path d="M301.5,470.1 V486.53 H306.0" fill="none" stroke="#1d5f8a" stroke-width="1"/>
<rect x="306.0" y="470.1" width="5" height="17.49" fill="#4ea6da"/>
<path d="M306.5,470.1 V487.09 H311.0" fill="none" stroke="#1d5f8a" stroke-width="1"/>
<rect x="311.0" y="470.1" width="5" height="15.83" fill="#4ea6da"/>
<path d="M311.5,470.1 V485.43 H316.0" fill="none" stroke="#1d5f8a" stroke-width="1"/>
<rect x="316.0" y="470.1" width="5" height="12.19" fill="#4ea6da"/>
<path d="M316.5,470.1 V481.79 H321.0" fill="none" stroke="#1d5f8a" stroke-width="1"/>
<rect x="321.0" y="470.1" width="5" height="10.54" fill="#4ea6da"/>
<path d="M321.5,470.1 V480.14 H326.0" fill="none" stroke="#1d5f8a" stroke-width="1"/>
<rect x="326.0" y="470.1" width="5" height="10.38" fill="#4ea6da"/>
<path d="M326.5,470.1 V479.98 H331.0" fill="none" stroke="#1d5f8a" stroke-width="1"/>
<rect x="331.0" y="470.1" width="5" height="7.98" fill="#4ea6da"/>
<path d="M331.5,470.1 V477.58 H336.0" fill="none" stroke="#1d5f8a" stroke-width="1"/>
<rect x="336.0" y="470.1" width="5" height="6.63" fill="#4ea6da"/>
<path d="M336.5,470.1 V476.23 H341.0" fill="none" stroke="#1d5f8a" stroke-width="1"/>
<rect x="341.0" y="470.1" width="5" height="7.88" fill="#4ea6da"/>
<path d="M341.5,470.1 V477.48 H346.0" fill="none" stroke="#1d5f8a" stroke-width="1"/>
<rect x="346.0" y="470.1" width="5" height="7.92" fill="#4ea6da"/>
<path d="M346.5,470.1 V477.52 H351.0" fill="none" stroke="#1d5f8a" stroke-width="1"/>
<rect x="351.0" y="470.1" width="5" height="9.19" fill="#4ea6da"/>
<path d="M351.5,470.1 V478.79 H356.0" fill="none" stroke="#1d5f8a" stroke-width="1"/>
<rect x="356.0" y="470.1" width="5" height="10.82" fill="#4ea6da"/>
<path d="M356.5,470.1 V480.42 H361.0" fill="none" stroke="#1d5f8a" stroke-width="1"/>
<rect x="361.0" y="470.1" width="5" height="10.73" fill="#4ea6da"/>
<path d="M361.5,470.1 V480.33 H366.0" fill="none" stroke="#1d5f8a" stroke-width="1"/>
<rect x="366.0" y="470.1" width="5" height="12.66" fill="#4ea6da"/>
<path d="M366.5,470.1 V482.26 H371.0" fill="none" stroke="#1d5f8a" stroke-width="1"/>
<rect x="371.0" y="470.1" width="5" height="13.58" fill="#4ea6da"/>
<path d="M371.5,470.1 V483.18 H376.0" fill="none" stroke="#1d5f8a" stroke-width="1"/>
<rect x="376.0" y="470.1" width="5" height="8.97" fill="#4ea6da"/>
<path d="M376.5,470.1 V478.57 H381.0" fill="none" stroke="#1d5f8a" stroke-width="1"/>
<rect x="381.0" y="470.1" width="5" height="3.73" fill="#4ea6da"/>
<path d="M381.5,470.1 V473.33 H386.0" fill="none" stroke="#1d5f8a" stroke-width="1"/>
<rect x="386.0" y="468.86" width="5" height="1.24" fill="#4ea6da"/>
<path d="M386.5,470.1 V469.36 H391.0" fill="none" stroke="#1d5f8a" stroke-width="1"/>
<rect x="391.0" y="463.42" width="5" height="6.68" fill="#4ea6da"/>
<path d="M391.5,470.1 V463.92 H396.0" fill="none" stroke="#1d5f8a" stroke-width="1"/>
<rect x="396.0" y="459.17" width="5" height="10.93" fill="#4ea6da"/>
<path d="M396.5,470.1 V459.67 H401.0" fill="none" stroke="#1d5f8a" stroke-width="1"/>
<rect x="401.0" y="456.97" width="5" height="13.13" fill="#4ea6da"/>
<path d="M401.5,470.1 V457.47 H406.0" fill="none" stroke="#1d5f8a" stroke-width="1"/>
<rect x="406.0" y="456.55" width="5" height="13.55" fill="#4ea6da"/>
<path d="M406.5,470.1 V457.05 H411.0" fill="none" stroke="#1d5f8a" stroke-width="1"/>
<rect x="411.0" y="456.02" width="5" height="14.08" fill="#4ea6da"/>
<path d="M411.5,470.1 V456.52 H416.0" fill="none" stroke="#1d5f8a" stroke-width="1"/>
<rect x="416.0" y="456.67" width="5" height="13.43" fill="#4ea6da"/>
<path d="M416.5,470.1 V457.17 H421.0" fill="none" stroke="#1d5f8a" stroke-width="1"/>
<rect x="421.0" y="457.52" width="5" height="12.58" fill="#4ea6da"/>
<path d="M421.5,470.1 V458.02 H426.0" fill="none" stroke="#1d5f8a" stroke-width="1"/>
<rect x="426.0" y="456.64" width="5" height="13.46" fill="#4ea6da"/>
<path d="M426.5,470.1 V457.14 H431.0" fill="none" stroke="#1d5f8a" stroke-width="1"/>
<rect x="431.0" y="456.16" width="5" height="13.94" fill="#4ea6da"/>
<path d="M431.5,470.1 V456.66 H436.0" fill="none" stroke="#1d5f8a" stroke-width="1"/>
<rect x="436.0" y="454.61" width="5" height="15.49" fill="#4ea6da"/>
<path d="M436.5,470.1 V455.11 H441.0" fill="none" stroke="#1d5f8a" stroke-width="1"/>
<rect x="441.0" y="454.78" width="5" height="15.32" fill="#4ea6da"/>
<path d="M441.5,470.1 V455.28 H446.0" fill="none" stroke="#1d5f8a" stroke-width="1"/>
<rect x="446.0" y="456.16" width="5" height="13.94" fill="#4ea6da"/>
<path d="M446.5,470.1 V456.66 H451.0" fill="none" stroke="#1d5f8a" stroke-width="1"/>
<rect x="451.0" y="459.93" width="5" height="10.17" fill="#4ea6da"/>
<path d="M451.5,470.1 V460.43 H456.0" fill="none" stroke="#1d5f8a" stroke-width="1"/>
<rect x="456.0" y="463.24" width="5" height="6.86" fill="#4ea6da"/>
<path d="M456.5,470.1 V463.74 H461.0" fill="none" stroke="#1d5f8a" stroke-width="1"/>
<rect x="461.0" y="465.03" width="5" height="5.07" fill="#4ea6da"/>
<path d="M461.5,470.1 V465.53 H466.0" fill="none" stroke="#1d5f8a" stroke-width="1"/>
<rect x="466.0" y="465.38" width="5" height="4.72" fill="#4ea6da"/>
<path d="M466.5,470.1 V465.88 H471.0" fill="none" stroke="#1d5f8a" stroke-width="1"/>
<rect x="471.0" y="464.4" width="5" height="5.7" fill="#4ea6da"/>
<path d="M471.5,470.1 V464.9 H476.0" fill="none" stroke="#1d5f8a" stroke-width="1"/>
<rect x="476.0" y="463.65" width="5" height="6.45" fill="#4ea6da"/>
<path d="M476.5,470.1 V464.15 H481.0" fill="none" stroke="#1d5f8a" stroke-width="1"/>
<rect x="481.0" y="462.09" width="5" height="8.01" fill="#4ea6da"/>
<path d="M481.5,470.1 V462.59 H486.0" fill="none" stroke="#1d5f8a" stroke-width="1"/>
<rect x="486.0" y="462.16" width="5" height="7.94" fill="#4ea6da"/>
<path d="M486.5,470.1 V462.66 H491.0" fill="none" stroke="#1d5f8a" stroke-width="1"/>
<rect x="491.0" y="463.93" width="5" height="6.17" fill="#4ea6da"/>
<path d="M491.5,470.1 V464.43 H496.0" fill="none" stroke="#1d5f8a" stroke-width="1"/>
<rect x="496.0" y="465.37" width="5" height="4.73" fill="#4ea6da"/>
<path d="M496.5,470.1 V465.87 H501.0" fill="none" stroke="#1d5f8a" stroke-width="1"/>
<rect x="501.0" y="465.82" width="5" height="4.28" fill="#4ea6da"/>
<path d="M501.5,470.1 V466.32 H506.0" fill="none" stroke="#1d5f8a" stroke-width="1"/>
<rect x="506.0" y="466.12" width="5" height="3.98" fill="#4ea6da"/>
<path d="M506.5,470.1 V466.62 H511.0" fill="none" stroke="#1d5f8a" stroke-width="1"/>
<rect x="511.0" y="465.81" width="5" height="4.29" fill="#4ea6da"/>
<path d="M511.5,470.1 V466.31 H516.0" fill="none" stroke="#1d5f8a" stroke-width="1"/>
<rect x="516.0" y="466.12" width="5" height="3.98" fill="#4ea6da"/>
<path d="M516.5,470.1 V466.62 H521.0" fill="none" stroke="#1d5f8a" stroke-width="1"/>
<rect x="521.0" y="467.58" width="5" height="2.52" fill="#4ea6da"/>
<path d="M521.5,470.1 V468.08 H526.0" fill="none" stroke="#1d5f8a" stroke-width="1"/>
<rect x="526.0" y="470.1" width="5" height="0.3" fill="#4ea6da"/>
<path d="M526.5,470.1 V469.88 H531.0" fill="none" stroke="#1d5f8a" stroke-width="1"/>
<rect x="531.0" y="470.1" width="5" height="1.57" fill="#4ea6da"/>
<path d="M531.5,470.1 V471.17 H536.0" fill="none" stroke="#1d5f8a" stroke-width="1"/>
<rect x="536.0" y="470.1" width="5" height="3.97" fill="#4ea6da"/>
<path d="M536.5,470.1 V473.57 H541.0" fill="none" stroke="#1d5f8a" stroke-width="1"/>
<rect x="541.0" y="470.1" width="5" height="4.96" fill="#4ea6da"/>
<path d="M541.5,470.1 V474.56 H546.0" fill="none" stroke="#1d5f8a" stroke-width="1"/>
<rect x="546.0" y="470.1" width="5" height="4.13" fill="#4ea6da"/>
<path d="M546.5,470.1 V473.73 H551.0" fill="none" stroke="#1d5f8a" stroke-width="1"/>
<rect x="551.0" y="470.1" width="5" height="2.67" fill="#4ea6da"/>
<path d="M551.5,470.1 V472.27 H556.0" fill="none" stroke="#1d5f8a" stroke-width="1"/>
<rect x="556.0" y="470.1" width="5" height="3.05" fill="#4ea6da"/>
<path d="M556.5,470.1 V472.65 H561.0" fill="none" stroke="#1d5f8a" stroke-width="1"/>
<rect x="561.0" y="470.1" width="5" height="1.79" fill="#4ea6da"/>
<path d="M561.5,470.1 V471.39 H566.0" fill="none" stroke="#1d5f8a" stroke-width="1"/>
<rect x="566.0" y="470.1" width="5" height="1.54" fill="#4ea6da"/>
<path d="M566.5,470.1 V471.14 H571.0" fill="none" stroke="#1d5f8a" stroke-width="1"/>
<rect x="571.0" y="470.1" width="5" height="2.14" fill="#4ea6da"/>
<path d="M571.5,470.1 V471.74 H576.0" fill="none" stroke="#1d5f8a" stroke-width="1"/>
<rect x="576.0" y="470.1" width="5" height="5.06" fill="#4ea6da"/>
<path d="M576.5,470.1 V474.66 H581.0" fill="none" stroke="#1d5f8a" stroke-width="1"/>
<rect x="581.0" y="470.1" width="5" height="8.83" fill="#4ea6da"/>
<path d="M581.5,470.1 V478.43 H586.0" fill="none" stroke="#1d5f8a" stroke-width="1"/>
<rect x="586.0" y="470.1" width="5" height="12.52" fill="#4ea6da"/>
<path d="M586.5,470.1 V482.12 H591.0" fill="none" stroke="#1d5f8a" stroke-width="1"/>
<rect x="591.0" y="470.1" width="5" height="20.74" fill="#4ea6da"/>
<path d="M591.5,470.1 V490.34 H596.0" fill="none" stroke="#1d5f8a" stroke-width="1"/>
<rect x="596.0" y="470.1" width="5" height="22.27" fill="#4ea6da"/>
<path d="M596.5,470.1 V491.87 H601.0" fill="none" stroke="#1d5f8a" stroke-width="1"/>
<rect x="601.0" y="470.1" width="5" height="22.01" fill="#4ea6da"/>
<path d="M601.5,470.1 V491.61 H606.0" fill="none" stroke="#1d5f8a" stroke-width="1"/>
<rect x="606.0" y="470.1" width="5" height="16.81" fill="#4ea6da"/>
<path d="M606.5,470.1 V486.41 H611.0" fill="none" stroke="#1d5f8a" stroke-width="1"/>
<rect x="611.0" y="470.1" width="5" height="14.11" fill="#4ea6da"/>
<path d="M611.5,470.1 V483.71 H616.0" fill="none" stroke="#1d5f8a" stroke-width="1"/>
<rect x="616.0" y="470.1" width="5" height="14.28" fill="#4ea6da"/>
<path d="M616.5,470.1 V483.88 H621.0" fill="none" stroke="#1d5f8a" stroke-width="1"/>
</g>
<polyline points="-1.5,432.94 3.5,431.92 8.5,430.64 13.5,429.27 18.5,427.92 23.5,426.93 28.5,425.99 33.5,425.18 38.5,424.62 43.5,424.39 48.5,424.61 53.5,424.88 58.5,425.45 63.5,426.34 68.5,427.81 73.5,430.09 78.5,432.94 83.5,435.36 88.5,437.3 93.5,438.57 98.5,439.47 103.5,439.91 108.5,439.9 113.5,439.7 118.5,439.61 123.5,439.1 128.5,439.42 133.5,440.34 138.5,441.3 143.5,442.54 148.5,443.77 153.5,444.64 158.5,444.7 163.5,444.31 168.5,443.61 173.5,442.69 178.5,441.51 183.5,440.24 188.5,439.36 193.5,438.66 198.5,438.19 203.5,437.6 208.5,437.08 213.5,436.68 218.5,436.57 223.5,436.65 228.5,436.85 233.5,436.74 238.5,436.62 243.5,436.61 248.5,436.48 253.5,436.32 258.5,436.16 263.5,436.5 268.5,437.31 273.5,437.95 278.5,438.76 283.5,440.58 288.5,443.09 293.5,446.13 298.5,449.19 303.5,453.42 308.5,457.79 313.5,461.75 318.5,464.8 323.5,467.43 328.5,470.03 333.5,472.02 338.5,473.68 343.5,475.65 348.5,477.63 353.5,479.93 358.5,482.63 363.5,485.32 368.5,488.48 373.5,491.88 378.5,494.12 383.5,495.05 388.5,494.74 393.5,493.07 398.5,490.34 403.5,487.06 408.5,483.67 413.5,480.15 418.5,476.79 423.5,473.65 428.5,470.28 433.5,466.8 438.5,462.93 443.5,459.09 448.5,455.61 453.5,453.07 458.5,451.35 463.5,450.08 468.5,448.9 473.5,447.48 478.5,445.86 483.5,443.86 488.5,441.88 493.5,440.33 498.5,439.15 503.5,438.08 508.5,437.08 513.5,436.01 518.5,435.02 523.5,434.39 528.5,434.46 533.5,434.85 538.5,435.84 543.5,437.08 548.5,438.12 553.5,438.78 558.5,439.55 563.5,439.99 568.5,440.38 573.5,440.92 578.5,442.18 583.5,444.39 588.5,447.52 593.5,452.7 598.5,458.27 603.5,463.77 608.5,467.98 613.5,471.5 618.5,475.07" fill="none" stroke="#d2303c" stroke-width="1.1" stroke-opacity="0.85"/>
<polyline points="-1.5,427.99 3.5,427.85 8.5,425.5 13.5,423.79 18.5,422.53 23.5,422.98 28.5,422.24 33.5,421.91 38.5,422.39 43.5,423.45 48.5,425.53 53.5,425.92 58.5,427.72 63.5,429.9 68.5,433.73 73.5,439.18 78.5,444.34 83.5,445.02 88.5,445.09 93.5,443.66 98.5,443.07 103.5,441.64 108.5,439.89 113.5,438.9 118.5,439.24 123.5,437.07 128.5,440.67 133.5,444.04 138.5,445.15 143.5,447.5 148.5,448.68 153.5,448.12 158.5,444.95 163.5,442.75 168.5,440.78 173.5,439.02 178.5,436.79 183.5,435.14 188.5,435.85 193.5,435.88 198.5,436.29 203.5,435.25 208.5,435.01 213.5,435.08 218.5,436.14 223.5,436.94 228.5,437.67 233.5,436.28 238.5,436.16 243.5,436.55 248.5,435.99 253.5,435.66 258.5,435.53 263.5,437.84 268.5,440.58 273.5,440.5 278.5,441.98 283.5,447.86 288.5,453.14 293.5,458.27 298.5,461.44 303.5,470.35 308.5,475.28 313.5,477.58 318.5,476.99 323.5,477.97 328.5,480.41 333.5,480.01 338.5,480.31 343.5,483.53 348.5,485.56 353.5,489.12 358.5,493.45 363.5,496.05 368.5,501.14 373.5,505.46 378.5,503.09 383.5,498.79 388.5,493.51 393.5,486.39 398.5,479.41 403.5,473.92 408.5,470.12 413.5,466.07 418.5,463.36 423.5,461.07 428.5,456.83 433.5,452.86 438.5,447.43 443.5,443.77 448.5,441.67 453.5,442.89 458.5,444.48 463.5,445.01 468.5,444.18 473.5,441.77 478.5,439.42 483.5,435.85 488.5,433.93 493.5,434.16 498.5,434.42 503.5,433.8 508.5,433.11 513.5,431.73 518.5,431.03 523.5,431.87 528.5,434.74 533.5,436.43 538.5,439.81 543.5,442.04 548.5,442.25 553.5,441.45 558.5,442.6 563.5,441.79 568.5,441.92 573.5,443.06 578.5,447.24 583.5,453.21 588.5,460.04 593.5,473.45 598.5,480.54 603.5,485.78 608.5,484.79 613.5,485.61 618.5,489.35" fill="none" stroke="#000" stroke-width="1.8"/>
</g>
<line x1="1.5" y1="415.5" x2="625.5" y2="415.5" stroke="#e0101e" stroke-width="2.6"/>
<rect x="1.5" y="26.5" width="624.0" height="97.0" fill="none" stroke="#ababab" stroke-width="1"/>
<rect x="1.5" y="123.5" width="624.0" height="277.0" fill="none" stroke="#ababab" stroke-width="1"/>
<path d="M1.5,415.5 V512.5 H625.5 V415.5" fill="none" stroke="#ababab" stroke-width="1"/>
<text x="1.5" y="11.6" font-family="DejaVu Sans, Verdana, sans-serif" font-size="12.2" font-weight="bold" fill="#000" textLength="32.5" lengthAdjust="spacingAndGlyphs">$SPX</text>
<text x="39" y="10.9" font-family="DejaVu Sans, Verdana, sans-serif" font-size="9.5" fill="#000" textLength="121" lengthAdjust="spacingAndGlyphs">S&amp;P 500 Large Cap Index</text>
<text x="166.5" y="10.9" font-family="DejaVu Sans, Verdana, sans-serif" font-size="7.5" fill="#000" textLength="22.5" lengthAdjust="spacingAndGlyphs">INDX</text>
<text x="536" y="10.6" font-family="DejaVu Sans, sans-serif" font-size="10" fill="#555" textLength="89.5" lengthAdjust="spacingAndGlyphs">&#169;StockCharts.com</text>
<text x="1.9" y="23.9" font-family="DejaVu Sans, Verdana, sans-serif" font-size="9" fill="#000" textLength="58.9" lengthAdjust="spacingAndGlyphs">12-Aug-2019</text>
<text x="143.5" y="23.8" font-family="DejaVu Sans, Verdana, sans-serif" font-size="9.5" font-weight="bold" fill="#000" textLength="27.5" lengthAdjust="spacingAndGlyphs">Open</text>
<text x="174.3" y="23.8" font-family="DejaVu Sans, Verdana, sans-serif" font-size="9" fill="#000" textLength="38.3" lengthAdjust="spacingAndGlyphs">2907.07</text>
<text x="219.5" y="23.8" font-family="DejaVu Sans, Verdana, sans-serif" font-size="9.5" font-weight="bold" fill="#000" textLength="23.5" lengthAdjust="spacingAndGlyphs">High</text>
<text x="246.7" y="23.8" font-family="DejaVu Sans, Verdana, sans-serif" font-size="9" fill="#000" textLength="38.5" lengthAdjust="spacingAndGlyphs">2907.58</text>
<text x="291.7" y="23.8" font-family="DejaVu Sans, Verdana, sans-serif" font-size="9.5" font-weight="bold" fill="#000" textLength="23.3" lengthAdjust="spacingAndGlyphs">Low</text>
<text x="318.8" y="23.8" font-family="DejaVu Sans, Verdana, sans-serif" font-size="9" fill="#000" textLength="39.3" lengthAdjust="spacingAndGlyphs">2873.14</text>
<text x="364.1" y="23.8" font-family="DejaVu Sans, Verdana, sans-serif" font-size="9.5" font-weight="bold" fill="#000" textLength="30.7" lengthAdjust="spacingAndGlyphs">Close</text>
<text x="398.8" y="23.8" font-family="DejaVu Sans, Verdana, sans-serif" font-size="9" fill="#000" textLength="38" lengthAdjust="spacingAndGlyphs">2882.70</text>
<text x="444.1" y="23.8" font-family="DejaVu Sans, Verdana, sans-serif" font-size="9.5" font-weight="bold" fill="#000" textLength="41.7" lengthAdjust="spacingAndGlyphs">Volume</text>
<text x="490.6" y="23.8" font-family="DejaVu Sans, Verdana, sans-serif" font-size="9" fill="#000" textLength="20.8" lengthAdjust="spacingAndGlyphs">1.6B</text>
<text x="517.8" y="23.8" font-family="DejaVu Sans, Verdana, sans-serif" font-size="9.5" font-weight="bold" fill="#000" textLength="21.2" lengthAdjust="spacingAndGlyphs">Chg</text>
<text x="542.5" y="23.8" font-family="DejaVu Sans, Verdana, sans-serif" font-size="9" fill="#000" textLength="71.8" lengthAdjust="spacingAndGlyphs">-35.95 (-1.23%)</text>
<path d="M616.5,17.5 L624.5,17.5 L620.5,22 Z" fill="#a81848"/>
<rect x="2.5" y="28" width="93" height="11" fill="#fff" fill-opacity="0.85"/>
<rect x="2.5" y="124" width="134" height="44" fill="#fff" fill-opacity="0.85"/>
<rect x="2.5" y="417" width="244" height="11" fill="#fff" fill-opacity="0.92"/>
<path d="M4.6,36.6 L5,33.6 L6.6,32.2 L8.4,28.4 L9.4,31.6 L10.6,33.2 L12.4,30.2 L12.4,36.6 Z" fill="#8db49a"/>
<path d="M4.6,36.6 L5,33.6 L6.6,32.2 L8.4,28.4 L9.4,31.6 L10.6,33.2 L12.4,30.2 L12.4,36.6" fill="none" stroke="#111" stroke-width="1"/>
<text x="16.8" y="37.2" font-family="DejaVu Sans, Verdana, sans-serif" font-size="9.3" fill="#000" textLength="78.5" lengthAdjust="spacing">RSI(14) 39.90</text>
<text x="80.8" y="133.6" font-family="DejaVu Sans, Verdana, sans-serif" font-size="9.3" fill="#000">)</text>
<text x="90" y="133.6" font-family="DejaVu Sans, Verdana, sans-serif" font-size="8.8" fill="#000" textLength="44" lengthAdjust="spacing">2882.70</text>
<rect x="2" y="123.5" width="77.5" height="12.5" fill="#dadada"/>
<rect x="2" y="123.5" width="77.5" height="2" fill="#c2c2c2"/>
<text x="5" y="134.6" font-family="DejaVu Sans, Verdana, sans-serif" font-size="8.6" fill="#444" textLength="71" lengthAdjust="spacingAndGlyphs">15 Apr Y:138.55</text>
<line x1="3.7" y1="141.1" x2="12.8" y2="141.1" stroke="#1c1c78" stroke-width="1.8"/>
<text x="15" y="144.7" font-family="Liberation Sans, Arial, sans-serif" font-size="7.3" fill="#10106a" textLength="67.4" lengthAdjust="spacing" stroke="#10106a" stroke-width="0.15">MA(50) 2939.07</text>
<line x1="3.7" y1="151.7" x2="12.8" y2="151.7" stroke="#8c1a38" stroke-width="1.8"/>
<text x="15" y="155.1" font-family="Liberation Sans, Arial, sans-serif" font-size="7.3" fill="#7c0a2c" textLength="72.8" lengthAdjust="spacing" stroke="#7c0a2c" stroke-width="0.15">MA(200) 2793.70</text>
<path d="M4.5,165.5 V161 H6.5 V165.5 M7.5,165.5 V159 H9.5 V165.5 M10.5,165.5 V161.5 H12.5 V165.5" fill="#444" stroke="#444" stroke-width="0.6"/>
<text x="14.7" y="165" font-family="Liberation Sans, Arial, sans-serif" font-size="7.3" fill="#222" textLength="93.3" lengthAdjust="spacing" stroke="#222" stroke-width="0.15">Volume 1,614,365,440</text>
<line x1="4.1" y1="421.8" x2="12.8" y2="421.8" stroke="#000" stroke-width="2.6"/>
<text x="16.8" y="425.8" font-family="DejaVu Sans, Verdana, sans-serif" font-size="9.3" fill="#000" textLength="83.5" lengthAdjust="spacing">MACD(12,26,9)</text>
<text x="104.2" y="425.8" font-family="DejaVu Sans, Verdana, sans-serif" font-size="9.3" fill="#000" textLength="50" lengthAdjust="spacing">-16.885,</text>
<text x="157" y="425.8" font-family="DejaVu Sans, Verdana, sans-serif" font-size="9.3" fill="#b0203c" textLength="37.4" lengthAdjust="spacing">-4.362,</text>
<text x="196.5" y="425.8" font-family="DejaVu Sans, Verdana, sans-serif" font-size="9.3" fill="#4a88b8" textLength="48.6" lengthAdjust="spacing">-12.523</text>
<text x="629.2" y="44.9" font-family="DejaVu Sans, Verdana, sans-serif" font-size="9" fill="#000" textLength="10.9" lengthAdjust="spacingAndGlyphs">90</text>
<text x="629.2" y="61.55" font-family="DejaVu Sans, Verdana, sans-serif" font-size="9" fill="#000" textLength="10.9" lengthAdjust="spacingAndGlyphs">70</text>
<text x="629.2" y="78.2" font-family="DejaVu Sans, Verdana, sans-serif" font-size="9" fill="#000" textLength="10.9" lengthAdjust="spacingAndGlyphs">50</text>
<text x="629.2" y="94.85" font-family="DejaVu Sans, Verdana, sans-serif" font-size="9" fill="#000" textLength="10.9" lengthAdjust="spacingAndGlyphs">30</text>
<text x="629.2" y="111.5" font-family="DejaVu Sans, Verdana, sans-serif" font-size="9" fill="#000" textLength="10.9" lengthAdjust="spacingAndGlyphs">10</text>
<text x="628.9" y="135.7" font-family="DejaVu Sans, Verdana, sans-serif" font-size="9" fill="#000" textLength="23" lengthAdjust="spacingAndGlyphs">3025</text>
<text x="628.9" y="156.26" font-family="DejaVu Sans, Verdana, sans-serif" font-size="9" fill="#000" textLength="23" lengthAdjust="spacingAndGlyphs">3000</text>
<text x="628.9" y="177" font-family="DejaVu Sans, Verdana, sans-serif" font-size="9" fill="#000" textLength="23" lengthAdjust="spacingAndGlyphs">2975</text>
<text x="628.9" y="197.91" font-family="DejaVu Sans, Verdana, sans-serif" font-size="9" fill="#000" textLength="23" lengthAdjust="spacingAndGlyphs">2950</text>
<text x="628.9" y="219" font-family="DejaVu Sans, Verdana, sans-serif" font-size="9" fill="#000" textLength="23" lengthAdjust="spacingAndGlyphs">2925</text>
<text x="628.9" y="240.27" font-family="DejaVu Sans, Verdana, sans-serif" font-size="9" fill="#000" textLength="23" lengthAdjust="spacingAndGlyphs">2900</text>
<text x="628.9" y="261.73" font-family="DejaVu Sans, Verdana, sans-serif" font-size="9" fill="#000" textLength="23" lengthAdjust="spacingAndGlyphs">2875</text>
<text x="628.9" y="283.37" font-family="DejaVu Sans, Verdana, sans-serif" font-size="9" fill="#000" textLength="23" lengthAdjust="spacingAndGlyphs">2850</text>
<text x="628.9" y="305.2" font-family="DejaVu Sans, Verdana, sans-serif" font-size="9" fill="#000" textLength="23" lengthAdjust="spacingAndGlyphs">2825</text>
<text x="628.9" y="327.23" font-family="DejaVu Sans, Verdana, sans-serif" font-size="9" fill="#000" textLength="23" lengthAdjust="spacingAndGlyphs">2800</text>
<text x="628.9" y="349.45" font-family="DejaVu Sans, Verdana, sans-serif" font-size="9" fill="#000" textLength="23" lengthAdjust="spacingAndGlyphs">2775</text>
<text x="628.9" y="371.88" font-family="DejaVu Sans, Verdana, sans-serif" font-size="9" fill="#000" textLength="23" lengthAdjust="spacingAndGlyphs">2750</text>
<text x="628.9" y="394.51" font-family="DejaVu Sans, Verdana, sans-serif" font-size="9" fill="#000" textLength="23" lengthAdjust="spacingAndGlyphs">2725</text>
<text x="642.8" y="427.7" font-family="DejaVu Sans, Verdana, sans-serif" font-size="9" fill="#000" text-anchor="end">40</text>
<text x="642.8" y="439.1" font-family="DejaVu Sans, Verdana, sans-serif" font-size="9" fill="#000" text-anchor="end">30</text>
<text x="642.8" y="450.5" font-family="DejaVu Sans, Verdana, sans-serif" font-size="9" fill="#000" text-anchor="end">20</text>
<text x="642.8" y="461.9" font-family="DejaVu Sans, Verdana, sans-serif" font-size="9" fill="#000" text-anchor="end">10</text>
<text x="642.8" y="473.3" font-family="DejaVu Sans, Verdana, sans-serif" font-size="9" fill="#000" text-anchor="end">0</text>
<text x="642.8" y="484.7" font-family="DejaVu Sans, Verdana, sans-serif" font-size="9" fill="#000" text-anchor="end">-10</text>
<text x="642.8" y="496.1" font-family="DejaVu Sans, Verdana, sans-serif" font-size="9" fill="#000" text-anchor="end">-20</text>
<text x="642.8" y="507.5" font-family="DejaVu Sans, Verdana, sans-serif" font-size="9" fill="#000" text-anchor="end">-30</text>
<path d="M623.5,82.31 L627.5,77.91 H667.5 V86.71 H627.5 Z" fill="#fff" stroke="#333" stroke-width="1.2"/>
<text x="628.3" y="85.51" font-family="DejaVu Sans, Verdana, sans-serif" font-size="9" fill="#000">39.90</text>
<path d="M623.5,203.71 L627.5,199.31 H667.5 V208.11 H627.5 Z" fill="#fff" stroke="#22227a" stroke-width="1.2"/>
<text x="628.3" y="206.91" font-family="DejaVu Sans, Verdana, sans-serif" font-size="9" fill="#000">2939.07</text>
<path d="M623.5,251.7 L627.5,247.3 H667.5 V256.1 H627.5 Z" fill="#fff" stroke="#000" stroke-width="1.2"/>
<text x="628.3" y="254.9" font-family="DejaVu Sans, Verdana, sans-serif" font-size="9" font-weight="bold" fill="#000">2882.70</text>
<path d="M623.5,329.41 L627.5,325.01 H667.5 V333.81 H627.5 Z" fill="#fff" stroke="#8c1a38" stroke-width="1.2"/>
<text x="628.3" y="332.61" font-family="DejaVu Sans, Verdana, sans-serif" font-size="9" fill="#000">2793.70</text>
<path d="M623.5,366.8 L627.5,362.4 H667.5 V371.2 H627.5 Z" fill="#fff" stroke="#000" stroke-width="1.2"/>
<text x="628.3" y="370" font-family="DejaVu Sans, Verdana, sans-serif" font-size="9" fill="#000">1614365440</text>
<path d="M623.5,475.07 L627.5,470.67 H667.5 V479.47 H627.5 Z" fill="#fff" stroke="#c03040" stroke-width="1.2"/>
<text x="628.3" y="478.27" font-family="DejaVu Sans, Verdana, sans-serif" font-size="9" fill="#000">-4.362</text>
<path d="M623.5,484.38 L627.5,479.98 H667.5 V488.78 H627.5 Z" fill="#fff" stroke="#3d7ab0" stroke-width="1.2"/>
<text x="628.3" y="487.58" font-family="DejaVu Sans, Verdana, sans-serif" font-size="9" fill="#000">-12.523</text>
<path d="M623.5,489.35 L627.5,484.95 H667.5 V493.75 H627.5 Z" fill="#fff" stroke="#000" stroke-width="1.2"/>
<text x="628.3" y="492.55" font-family="DejaVu Sans, Verdana, sans-serif" font-size="9" fill="#000">-16.885</text>
<text x="13.5" y="411.9" font-family="Liberation Sans, Arial, sans-serif" font-size="9.8" fill="#000" text-anchor="middle">19</text>
<text x="33.5" y="411.9" font-family="Liberation Sans, Arial, sans-serif" font-size="9.8" fill="#000" text-anchor="middle">25</text>
<text x="53.5" y="411.9" font-family="DejaVu Sans, Verdana, sans-serif" font-size="9.4" font-weight="bold" fill="#000" text-anchor="middle">Mar</text>
<text x="83.5" y="411.9" font-family="Liberation Sans, Arial, sans-serif" font-size="9.8" fill="#000" text-anchor="middle">11</text>
<text x="108.5" y="411.9" font-family="Liberation Sans, Arial, sans-serif" font-size="9.8" fill="#000" text-anchor="middle">18</text>
<text x="133.5" y="411.9" font-family="Liberation Sans, Arial, sans-serif" font-size="9.8" fill="#000" text-anchor="middle">25</text>
<text x="158.5" y="411.9" font-family="DejaVu Sans, Verdana, sans-serif" font-size="9.4" font-weight="bold" fill="#000" text-anchor="middle">Apr</text>
<text x="183.5" y="411.9" font-family="Liberation Sans, Arial, sans-serif" font-size="9.8" fill="#000" text-anchor="middle">8</text>
<text x="208.5" y="411.9" font-family="Liberation Sans, Arial, sans-serif" font-size="9.8" fill="#000" text-anchor="middle">15</text>
<text x="228.5" y="411.9" font-family="Liberation Sans, Arial, sans-serif" font-size="9.8" fill="#000" text-anchor="middle">22</text>
<text x="263.5" y="411.9" font-family="DejaVu Sans, Verdana, sans-serif" font-size="9.4" font-weight="bold" fill="#000" text-anchor="middle">May</text>
<text x="278.5" y="411.9" font-family="Liberation Sans, Arial, sans-serif" font-size="9.8" fill="#000" text-anchor="middle">6</text>
<text x="303.5" y="411.9" font-family="Liberation Sans, Arial, sans-serif" font-size="9.8" fill="#000" text-anchor="middle">13</text>
<text x="328.5" y="411.9" font-family="Liberation Sans, Arial, sans-serif" font-size="9.8" fill="#000" text-anchor="middle">20</text>
<text x="353.5" y="411.9" font-family="Liberation Sans, Arial, sans-serif" font-size="9.8" fill="#000" text-anchor="middle">28</text>
<text x="373.5" y="411.9" font-family="DejaVu Sans, Verdana, sans-serif" font-size="9.4" font-weight="bold" fill="#000" text-anchor="middle">Jun</text>
<text x="398.5" y="411.9" font-family="Liberation Sans, Arial, sans-serif" font-size="9.8" fill="#000" text-anchor="middle">10</text>
<text x="423.5" y="411.9" font-family="Liberation Sans, Arial, sans-serif" font-size="9.8" fill="#000" text-anchor="middle">17</text>
<text x="448.5" y="411.9" font-family="Liberation Sans, Arial, sans-serif" font-size="9.8" fill="#000" text-anchor="middle">24</text>
<text x="473.5" y="411.9" font-family="DejaVu Sans, Verdana, sans-serif" font-size="9.4" font-weight="bold" fill="#000" text-anchor="middle">Jul</text>
<text x="493.5" y="411.9" font-family="Liberation Sans, Arial, sans-serif" font-size="9.8" fill="#000" text-anchor="middle">8</text>
<text x="518.5" y="411.9" font-family="Liberation Sans, Arial, sans-serif" font-size="9.8" fill="#000" text-anchor="middle">15</text>
<text x="543.5" y="411.9" font-family="Liberation Sans, Arial, sans-serif" font-size="9.8" fill="#000" text-anchor="middle">22</text>
<text x="568.5" y="411.9" font-family="Liberation Sans, Arial, sans-serif" font-size="9.8" fill="#000" text-anchor="middle">29</text>
<text x="583.5" y="411.9" font-family="DejaVu Sans, Verdana, sans-serif" font-size="9.4" font-weight="bold" fill="#000" text-anchor="middle">Aug</text>
<text x="618.5" y="411.9" font-family="Liberation Sans, Arial, sans-serif" font-size="9.8" fill="#000" text-anchor="middle">12</text>
<text x="13.5" y="522.8" font-family="Liberation Sans, Arial, sans-serif" font-size="9.8" fill="#000" text-anchor="middle">19</text>
<text x="33.5" y="522.8" font-family="Liberation Sans, Arial, sans-serif" font-size="9.8" fill="#000" text-anchor="middle">25</text>
<text x="53.5" y="522.8" font-family="DejaVu Sans, Verdana, sans-serif" font-size="9.4" font-weight="bold" fill="#000" text-anchor="middle">Mar</text>
<text x="83.5" y="522.8" font-family="Liberation Sans, Arial, sans-serif" font-size="9.8" fill="#000" text-anchor="middle">11</text>
<text x="108.5" y="522.8" font-family="Liberation Sans, Arial, sans-serif" font-size="9.8" fill="#000" text-anchor="middle">18</text>
<text x="133.5" y="522.8" font-family="Liberation Sans, Arial, sans-serif" font-size="9.8" fill="#000" text-anchor="middle">25</text>
<text x="158.5" y="522.8" font-family="DejaVu Sans, Verdana, sans-serif" font-size="9.4" font-weight="bold" fill="#000" text-anchor="middle">Apr</text>
<text x="183.5" y="522.8" font-family="Liberation Sans, Arial, sans-serif" font-size="9.8" fill="#000" text-anchor="middle">8</text>
<text x="208.5" y="522.8" font-family="Liberation Sans, Arial, sans-serif" font-size="9.8" fill="#000" text-anchor="middle">15</text>
<text x="228.5" y="522.8" font-family="Liberation Sans, Arial, sans-serif" font-size="9.8" fill="#000" text-anchor="middle">22</text>
<text x="263.5" y="522.8" font-family="DejaVu Sans, Verdana, sans-serif" font-size="9.4" font-weight="bold" fill="#000" text-anchor="middle">May</text>
<text x="278.5" y="522.8" font-family="Liberation Sans, Arial, sans-serif" font-size="9.8" fill="#000" text-anchor="middle">6</text>
<text x="303.5" y="522.8" font-family="Liberation Sans, Arial, sans-serif" font-size="9.8" fill="#000" text-anchor="middle">13</text>
<text x="328.5" y="522.8" font-family="Liberation Sans, Arial, sans-serif" font-size="9.8" fill="#000" text-anchor="middle">20</text>
<text x="353.5" y="522.8" font-family="Liberation Sans, Arial, sans-serif" font-size="9.8" fill="#000" text-anchor="middle">28</text>
<text x="373.5" y="522.8" font-family="DejaVu Sans, Verdana, sans-serif" font-size="9.4" font-weight="bold" fill="#000" text-anchor="middle">Jun</text>
<text x="398.5" y="522.8" font-family="Liberation Sans, Arial, sans-serif" font-size="9.8" fill="#000" text-anchor="middle">10</text>
<text x="423.5" y="522.8" font-family="Liberation Sans, Arial, sans-serif" font-size="9.8" fill="#000" text-anchor="middle">17</text>
<text x="448.5" y="522.8" font-family="Liberation Sans, Arial, sans-serif" font-size="9.8" fill="#000" text-anchor="middle">24</text>
<text x="473.5" y="522.8" font-family="DejaVu Sans, Verdana, sans-serif" font-size="9.4" font-weight="bold" fill="#000" text-anchor="middle">Jul</text>
<text x="493.5" y="522.8" font-family="Liberation Sans, Arial, sans-serif" font-size="9.8" fill="#000" text-anchor="middle">8</text>
<text x="518.5" y="522.8" font-family="Liberation Sans, Arial, sans-serif" font-size="9.8" fill="#000" text-anchor="middle">15</text>
<text x="543.5" y="522.8" font-family="Liberation Sans, Arial, sans-serif" font-size="9.8" fill="#000" text-anchor="middle">22</text>
<text x="568.5" y="522.8" font-family="Liberation Sans, Arial, sans-serif" font-size="9.8" fill="#000" text-anchor="middle">29</text>
<text x="583.5" y="522.8" font-family="DejaVu Sans, Verdana, sans-serif" font-size="9.4" font-weight="bold" fill="#000" text-anchor="middle">Aug</text>
<text x="618.5" y="522.8" font-family="Liberation Sans, Arial, sans-serif" font-size="9.8" fill="#000" text-anchor="middle">12</text>
</svg></body></html>
